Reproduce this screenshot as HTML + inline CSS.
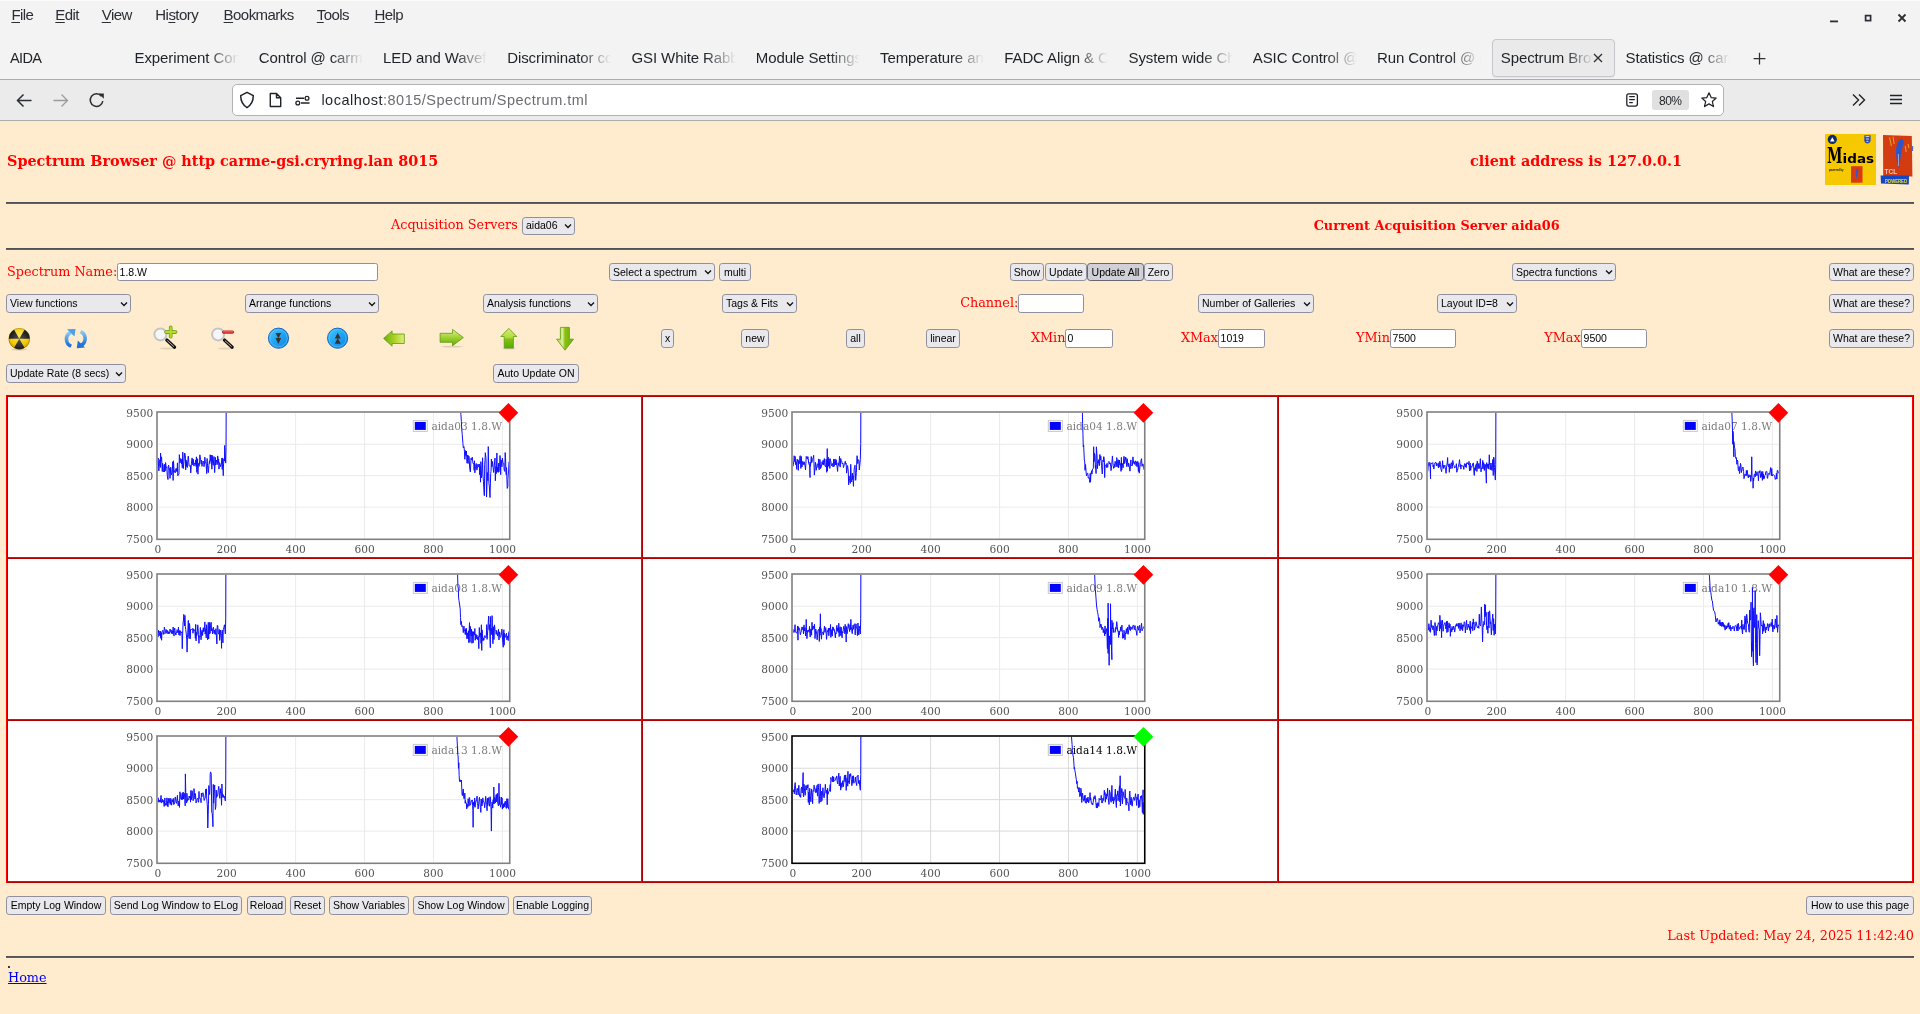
<!DOCTYPE html><html><head><meta charset="utf-8"><title>Spectrum Browser</title><style>
*{box-sizing:border-box}
html,body{margin:0;padding:0}
body{width:1920px;height:1014px;overflow:hidden;position:relative;background:#ffebcd;font-family:"Liberation Sans",sans-serif}
#root{position:absolute;left:0;top:0;width:1920px;height:1014px;will-change:transform}
.t{position:absolute;white-space:nowrap}
u{text-underline-offset:1.6px;text-decoration-thickness:1.2px}
#menubar{position:absolute;left:0;top:0;width:1920px;height:36px;background:#f3f3f3;border-top:1px solid #fbfbfb}
#tabbar{position:absolute;left:0;top:36px;width:1920px;height:44px;background:#f3f3f3;border-bottom:1px solid #ababab}
#navbar{position:absolute;left:0;top:80px;width:1920px;height:41px;background:#ebebeb;border-bottom:1px solid #adadad}
.tabt{position:absolute;top:49px;width:104px;height:18px;overflow:hidden;white-space:nowrap;font:15px/18px "Liberation Sans",sans-serif;color:#1f2226;letter-spacing:-0.1px;
 -webkit-mask-image:linear-gradient(to right,#000 70%,transparent 100%);mask-image:linear-gradient(to right,#000 70%,transparent 100%)}
.seltab{position:absolute;background:#eaeaea;border:1px solid #c6c6cc;border-radius:4px;box-shadow:0 1px 1px rgba(0,0,0,0.06)}
.urlbox{position:absolute;background:#fff;border:1px solid #b3b3b3;border-radius:5px}
.zoombadge{position:absolute;background:#e0e0e0;border-radius:3px;font:12px/23px "Liberation Sans",sans-serif;color:#1f2226;text-align:center;letter-spacing:-0.5px;overflow:hidden}
.hr{position:absolute;left:6px;width:1908px;height:2px;background:#4e5156;border-bottom:1px solid #5e6165}
.btn,.sel,.inp{position:absolute;border:1px solid #8f8f9d;border-radius:3.2px;background:#e9e9ed;font:10.5px/1 "Liberation Sans",sans-serif;color:#000;white-space:nowrap;overflow:hidden}
.btn span{position:absolute;left:0;right:0;text-align:center;line-height:10.5px}
.btn.pressed{background:#d0d0d7;border-color:#676774}
.sel span{position:absolute;left:3px;line-height:10.5px}
.sel .chev{position:absolute;right:2.5px;top:50%;margin-top:-3px}
.inp{background:#fff;border-radius:2.4px}
.inp span{position:absolute;left:1.6px;line-height:10.5px}
#grid{position:absolute;left:6px;top:395px;width:1908px;height:488px;background:#fff}
.vline{position:absolute;top:395px;width:2px;height:488px;background:#e00000}
.hline{position:absolute;left:6px;height:2px;width:1908px;background:#e00000}
.chart{position:absolute;overflow:visible}
</style></head><body><div id="root"><div id="menubar"></div><div id="tabbar"></div><div id="navbar"></div><div class="t" style="left:11.40px;top:7.00px;font-size:15px;line-height:15px;font-family:'Liberation Sans', sans-serif;font-weight:400;color:#2b2e33;letter-spacing:-0.55px"><u>F</u>ile</div><div class="t" style="left:55.30px;top:7.00px;font-size:15px;line-height:15px;font-family:'Liberation Sans', sans-serif;font-weight:400;color:#2b2e33;letter-spacing:-0.55px"><u>E</u>dit</div><div class="t" style="left:101.70px;top:7.00px;font-size:15px;line-height:15px;font-family:'Liberation Sans', sans-serif;font-weight:400;color:#2b2e33;letter-spacing:-0.55px"><u>V</u>iew</div><div class="t" style="left:155.30px;top:7.00px;font-size:15px;line-height:15px;font-family:'Liberation Sans', sans-serif;font-weight:400;color:#2b2e33;letter-spacing:-0.55px">Hi<u>s</u>tory</div><div class="t" style="left:223.60px;top:7.00px;font-size:15px;line-height:15px;font-family:'Liberation Sans', sans-serif;font-weight:400;color:#2b2e33;letter-spacing:-0.55px"><u>B</u>ookmarks</div><div class="t" style="left:316.80px;top:7.00px;font-size:15px;line-height:15px;font-family:'Liberation Sans', sans-serif;font-weight:400;color:#2b2e33;letter-spacing:-0.55px"><u>T</u>ools</div><div class="t" style="left:374.50px;top:7.00px;font-size:15px;line-height:15px;font-family:'Liberation Sans', sans-serif;font-weight:400;color:#2b2e33;letter-spacing:-0.55px"><u>H</u>elp</div><svg style="position:absolute;left:1826px;top:8px" width="90" height="20" viewBox="0 0 90 20"><rect x="4" y="12.5" width="8" height="1.8" fill="#2b2e33"/><rect x="39.6" y="7.6" width="5" height="5" fill="none" stroke="#2b2e33" stroke-width="1.7"/><path d="M72.5 6.5 L79.5 13.5 M79.5 6.5 L72.5 13.5" stroke="#2b2e33" stroke-width="1.8"/></svg><div class="t" style="left:10.00px;top:51.00px;font-size:14.5px;line-height:14.5px;font-family:'Liberation Sans', sans-serif;font-weight:400;color:#1f2226;letter-spacing:-0.6px">AIDA</div><div class="tabt" style="left:134.50px">Experiment Control @ carme</div><div class="tabt" style="left:258.75px">Control @ carme-gsi</div><div class="tabt" style="left:383.00px">LED and Waveform Control</div><div class="tabt" style="left:507.25px">Discriminator control</div><div class="tabt" style="left:631.50px">GSI White Rabbit</div><div class="tabt" style="left:755.75px">Module Settings @</div><div class="tabt" style="left:880.00px">Temperature and Status</div><div class="tabt" style="left:1004.25px">FADC Align & Control</div><div class="tabt" style="left:1128.50px">System wide Checks</div><div class="tabt" style="left:1252.75px">ASIC Control @ carme</div><div class="tabt" style="left:1377.00px">Run Control @ carme</div><div class="seltab" style="left:1492.00px;top:39.00px;width:123.00px;height:38.00px;"></div><div class="tabt" style="left:1500.75px;width:92px">Spectrum Browser</div><svg style="position:absolute;left:1593px;top:53px" width="10" height="10" viewBox="0 0 10 10"><path d="M1 1 L9 9 M9 1 L1 9" stroke="#2b2e33" stroke-width="1.3"/></svg><div class="tabt" style="left:1625.50px">Statistics @ carme</div><svg style="position:absolute;left:1752px;top:51px" width="16" height="16" viewBox="1752 51 16 16"><path d="M1759.5 52.8 V64.6 M1753.6 58.6 H1765.4" stroke="#2b2e33" stroke-width="1.25"/></svg><svg style="position:absolute;left:14px;top:90px" width="100" height="20" viewBox="0 0 100 20"><path d="M3.5 10.5 H17.5 M9.5 4.5 L3.5 10.5 L9.5 16.5" fill="none" stroke="#2b2e33" stroke-width="1.5"/><path d="M39.5 10.5 H53.5 M47.5 4.5 L53.5 10.5 L47.5 16.5" fill="none" stroke="#9a9b9e" stroke-width="1.3"/><path d="M87.5 6.2 A6.3 6.3 0 1 0 88.8 11" fill="none" stroke="#2b2e33" stroke-width="1.5"/><path d="M84.6 3.6 L89.8 3.6 L89.8 8.8 Z" fill="#2b2e33"/></svg><div class="urlbox" style="left:231.50px;top:84.00px;width:1492.70px;height:32.00px;"></div><svg style="position:absolute;left:238px;top:90px" width="80" height="20" viewBox="0 0 80 20"><path d="M9 2.3 L15.3 5.6 C15.3 11 13.5 15 9 17.7 C4.5 15 2.7 11 2.7 5.6 Z" fill="none" stroke="#1f2226" stroke-width="1.5" stroke-linejoin="round"/><path d="M32.3 3.5 H38.5 L42.7 7.7 V16.5 H32.3 Z M38.5 3.5 V7.7 H42.7" fill="none" stroke="#1f2226" stroke-width="1.4" stroke-linejoin="round"/><path d="M58 8.3 H66 M63 13 H71.5" stroke="#1f2226" stroke-width="1.4"/><circle cx="69" cy="8.3" r="1.9" fill="none" stroke="#1f2226" stroke-width="1.3"/><circle cx="59.8" cy="13" r="1.9" fill="none" stroke="#1f2226" stroke-width="1.3"/></svg><div class="t" style="left:321.40px;top:93.00px;font-size:14.5px;line-height:14.5px;font-family:'Liberation Sans', sans-serif;font-weight:400;color:#1f2226;letter-spacing:0.49px">localhost<span style="color:#6b6d70">:8015/Spectrum/Spectrum.tml</span></div><svg style="position:absolute;left:1623px;top:91px" width="18" height="18" viewBox="1623 91 18 18"><rect x="1626.8" y="93.8" width="10.6" height="12.3" rx="2" fill="none" stroke="#1f2226" stroke-width="1.3"/><path d="M1629.6 96.6 H1634.4 M1629.6 99.6 H1634.4 M1629.6 102.6 H1632.4" stroke="#1f2226" stroke-width="1.2" stroke-linecap="round"/></svg><div class="zoombadge" style="left:1651.90px;top:90.20px;width:36.80px;height:19.50px;"><span>80%</span></div><svg style="position:absolute;left:1699px;top:90px" width="20" height="20" viewBox="0 0 20 20"><path d="M10 2 L12.4 7.3 L18 7.8 L13.7 11.6 L15 17.3 L10 14.3 L5 17.3 L6.3 11.6 L2 7.8 L7.6 7.3 Z" transform="translate(10 10) scale(0.9) translate(-10 -10)" fill="none" stroke="#1f2226" stroke-width="1.35" stroke-linejoin="round"/></svg><svg style="position:absolute;left:1850px;top:91px" width="60" height="18" viewBox="0 0 60 18"><path d="M3 3.5 L8.5 9 L3 14.5 M9 3.5 L14.5 9 L9 14.5" fill="none" stroke="#1f2226" stroke-width="1.4"/><path d="M40 4.5 H52 M40 8.5 H52 M40 12.5 H52" stroke="#1f2226" stroke-width="1.3"/></svg><div class="t" style="left:7.00px;top:154.00px;font-size:14.4px;line-height:14.4px;font-family:'DejaVu Serif', serif;font-weight:700;color:#f00;">Spectrum Browser @ http carme-gsi.cryring.lan 8015</div><div class="t" style="left:1470.00px;top:154.00px;font-size:14.4px;line-height:14.4px;font-family:'DejaVu Serif', serif;font-weight:700;color:#f00;">client address is 127.0.0.1</div><svg style="position:absolute;left:1820px;top:130px" width="100" height="60" viewBox="1820 130 100 60">
<rect x="1825" y="134" width="51" height="51" fill="#f6c800"/>
<circle cx="1832.3" cy="139.4" r="4.6" fill="#0c2a6e"/>
<path d="M1830 141.6 L1832.3 137.2 L1834.6 141.6 Z" fill="#fff"/>
<path d="M1864.3 135.2 H1870.6 V140.6 C1870.6 142.6 1868.6 143.6 1867.4 143.6 C1866.2 143.6 1864.3 142.6 1864.3 140.6 Z" fill="#2a4cb0"/>
<path d="M1865.6 136.6 H1869.3 M1866 139 H1869 M1866.5 141.4 H1868.4" stroke="#e8e8ff" stroke-width="0.9"/>
<text x="1827" y="162.6" font-family="DejaVu Serif, serif" font-weight="700" font-size="22" textLength="15.5" lengthAdjust="spacingAndGlyphs" fill="#000">M</text>
<text x="1842.6" y="162.6" font-family="DejaVu Sans, sans-serif" font-weight="700" font-size="12.6" textLength="31.5" lengthAdjust="spacingAndGlyphs" fill="#000">idas</text>
<text x="1829" y="171.3" font-family="Liberation Sans, sans-serif" font-weight="700" font-size="3.6" textLength="14.5" lengthAdjust="spacingAndGlyphs" fill="#111">powered by</text>
<rect x="1851" y="166.2" width="11.5" height="16.5" fill="#d83a12"/>
<path d="M1857.5 168.5 C1859 168.6 1858.6 171 1857.8 173 C1857.3 175 1857.2 177 1856.6 179 C1856 176 1855.6 173 1856.2 171 C1856.5 169.5 1856.8 168.6 1857.5 168.5 Z" fill="#2f58c8"/>
<path d="M1883 135 L1911.8 136 L1912.4 176.6 L1883.2 176.2 Z" fill="#d23c10"/>
<path d="M1880.6 175.6 L1909 175.6 L1908.8 184.6 L1881 183.4 Z" fill="#1546c4"/>
<text x="1885" y="182.6" font-family="Liberation Sans, sans-serif" font-weight="700" font-size="6.2" textLength="22" lengthAdjust="spacingAndGlyphs" fill="#e8e030">POWERED</text>
<text x="1884.6" y="174.4" font-family="Liberation Sans, sans-serif" font-weight="700" font-size="6.4" textLength="12.5" lengthAdjust="spacingAndGlyphs" fill="#f0c8c0">TCL</text>
<path d="M1901.4 139 C1904.6 139.4 1904 143.6 1902.6 146.6 C1901.4 150.6 1900.8 157 1899 168 C1897.4 163 1895.4 156 1896.2 149 C1896.8 144 1898.4 139.6 1901.4 139 Z" fill="#2a56cc"/>
<path d="M1898.4 154 C1898.6 158 1898.4 162 1898.6 166" stroke="#e0e0f0" stroke-width="0.6" fill="none"/>
<path d="M1889.6 137.4 L1891.4 146 M1893 136.6 L1894.2 144 M1905.2 145.8 L1906.2 152 M1908 144 L1908.8 148" stroke="#f0b020" stroke-width="0.9"/>
<path d="M1912.2 146 L1913.2 146.2 L1913 151 L1912.2 151 Z" fill="#1a4cc8"/>
</svg><div class="hr" style="top:202px"></div><div class="hr" style="top:248px"></div><div class="hr" style="top:956px"></div><div class="t" style="left:391.00px;top:219.00px;font-size:12.8px;line-height:12.8px;font-family:'DejaVu Serif', serif;font-weight:400;color:#f00;">Acquisition Servers</div><div class="sel" style="left:522px;top:217px;width:53px;height:18px"><span style="top:2px">aida06</span><svg class="chev" width="8" height="6" viewBox="0 0 8 6"><path d="M1 1.5 L4 4.5 L7 1.5" fill="none" stroke="#111" stroke-width="1.3"/></svg></div><div class="t" style="left:1313.70px;top:220.00px;font-size:12.8px;line-height:12.8px;font-family:'DejaVu Serif', serif;font-weight:700;color:#f00;">Current Acquisition Server aida06</div><div class="t" style="left:7.00px;top:266.00px;font-size:12.8px;line-height:12.8px;font-family:'DejaVu Serif', serif;font-weight:400;color:#f00;">Spectrum Name:</div><div class="inp" style="left:117px;top:263px;width:261px;height:18px"><span style="top:3px">1.8.W</span></div><div class="sel" style="left:609px;top:263px;width:106px;height:18px"><span style="top:3px">Select a spectrum</span><svg class="chev" width="8" height="6" viewBox="0 0 8 6"><path d="M1 1.5 L4 4.5 L7 1.5" fill="none" stroke="#111" stroke-width="1.3"/></svg></div><div class="btn" style="left:719px;top:263px;width:32px;height:18px"><span style="top:3px">multi</span></div><div class="btn" style="left:1010px;top:263px;width:34px;height:18px"><span style="top:3px">Show</span></div><div class="btn" style="left:1045px;top:263px;width:42px;height:18px"><span style="top:3px">Update</span></div><div class="btn pressed" style="left:1087px;top:263px;width:57px;height:18px"><span style="top:3px">Update All</span></div><div class="btn" style="left:1144px;top:263px;width:29px;height:18px"><span style="top:3px">Zero</span></div><div class="sel" style="left:1512px;top:263px;width:104px;height:18px"><span style="top:3px">Spectra functions</span><svg class="chev" width="8" height="6" viewBox="0 0 8 6"><path d="M1 1.5 L4 4.5 L7 1.5" fill="none" stroke="#111" stroke-width="1.3"/></svg></div><div class="btn" style="left:1829px;top:263px;width:85px;height:18px"><span style="top:3px">What are these?</span></div><div class="sel" style="left:6px;top:294px;width:125px;height:19px"><span style="top:3px">View functions</span><svg class="chev" width="8" height="6" viewBox="0 0 8 6"><path d="M1 1.5 L4 4.5 L7 1.5" fill="none" stroke="#111" stroke-width="1.3"/></svg></div><div class="sel" style="left:245px;top:294px;width:134px;height:19px"><span style="top:3px">Arrange functions</span><svg class="chev" width="8" height="6" viewBox="0 0 8 6"><path d="M1 1.5 L4 4.5 L7 1.5" fill="none" stroke="#111" stroke-width="1.3"/></svg></div><div class="sel" style="left:483px;top:294px;width:115px;height:19px"><span style="top:3px">Analysis functions</span><svg class="chev" width="8" height="6" viewBox="0 0 8 6"><path d="M1 1.5 L4 4.5 L7 1.5" fill="none" stroke="#111" stroke-width="1.3"/></svg></div><div class="sel" style="left:722px;top:294px;width:75px;height:19px"><span style="top:3px">Tags &amp; Fits</span><svg class="chev" width="8" height="6" viewBox="0 0 8 6"><path d="M1 1.5 L4 4.5 L7 1.5" fill="none" stroke="#111" stroke-width="1.3"/></svg></div><div class="t" style="left:960.20px;top:297.00px;font-size:12.8px;line-height:12.8px;font-family:'DejaVu Serif', serif;font-weight:400;color:#f00;">Channel:</div><div class="inp" style="left:1018px;top:294px;width:66px;height:19px"><span style="top:3px"></span></div><div class="sel" style="left:1198px;top:294px;width:116px;height:19px"><span style="top:3px">Number of Galleries</span><svg class="chev" width="8" height="6" viewBox="0 0 8 6"><path d="M1 1.5 L4 4.5 L7 1.5" fill="none" stroke="#111" stroke-width="1.3"/></svg></div><div class="sel" style="left:1437px;top:294px;width:80px;height:19px"><span style="top:3px">Layout ID=8</span><svg class="chev" width="8" height="6" viewBox="0 0 8 6"><path d="M1 1.5 L4 4.5 L7 1.5" fill="none" stroke="#111" stroke-width="1.3"/></svg></div><div class="btn" style="left:1829px;top:294px;width:85px;height:19px"><span style="top:3px">What are these?</span></div><div class="btn" style="left:661px;top:329px;width:13px;height:19px"><span style="top:3px">x</span></div><div class="btn" style="left:741px;top:329px;width:28px;height:19px"><span style="top:3px">new</span></div><div class="btn" style="left:846px;top:329px;width:19px;height:19px"><span style="top:3px">all</span></div><div class="btn" style="left:926px;top:329px;width:34px;height:19px"><span style="top:3px">linear</span></div><div class="t" style="left:1030.90px;top:332.00px;font-size:12.8px;line-height:12.8px;font-family:'DejaVu Serif', serif;font-weight:400;color:#f00;">XMin</div><div class="inp" style="left:1065px;top:329px;width:48px;height:19px"><span style="top:3px">0</span></div><div class="t" style="left:1180.90px;top:332.00px;font-size:12.8px;line-height:12.8px;font-family:'DejaVu Serif', serif;font-weight:400;color:#f00;">XMax</div><div class="inp" style="left:1218px;top:329px;width:47px;height:19px"><span style="top:3px">1019</span></div><div class="t" style="left:1356.00px;top:332.00px;font-size:12.8px;line-height:12.8px;font-family:'DejaVu Serif', serif;font-weight:400;color:#f00;">YMin</div><div class="inp" style="left:1390px;top:329px;width:66px;height:19px"><span style="top:3px">7500</span></div><div class="t" style="left:1544.30px;top:332.00px;font-size:12.8px;line-height:12.8px;font-family:'DejaVu Serif', serif;font-weight:400;color:#f00;">YMax</div><div class="inp" style="left:1581px;top:329px;width:66px;height:19px"><span style="top:3px">9500</span></div><div class="btn" style="left:1829px;top:329px;width:85px;height:19px"><span style="top:3px">What are these?</span></div><div class="sel" style="left:6px;top:364px;width:120px;height:19px"><span style="top:3px">Update Rate (8 secs)</span><svg class="chev" width="8" height="6" viewBox="0 0 8 6"><path d="M1 1.5 L4 4.5 L7 1.5" fill="none" stroke="#111" stroke-width="1.3"/></svg></div><div class="btn" style="left:493px;top:364px;width:86px;height:19px"><span style="top:3px">Auto Update ON</span></div>
<svg style="position:absolute;left:0;top:320px" width="600" height="36" viewBox="0 320 600 36">
 <defs>
  <radialGradient id="gy" cx="0.5" cy="0.35" r="0.65"><stop offset="0" stop-color="#ffe860"/><stop offset="0.7" stop-color="#f2c800"/><stop offset="1" stop-color="#c89a00"/></radialGradient>
  <radialGradient id="gk" cx="0.5" cy="0.5" r="0.6"><stop offset="0" stop-color="#555"/><stop offset="1" stop-color="#111"/></radialGradient>
  <linearGradient id="gb" x1="0" y1="0" x2="1" y2="1"><stop offset="0" stop-color="#48c8ff"/><stop offset="0.5" stop-color="#1ea4f2"/><stop offset="1" stop-color="#1080e0"/></linearGradient>
  <linearGradient id="gr" x1="0" y1="0" x2="0" y2="1"><stop offset="0" stop-color="#8cc8f4"/><stop offset="1" stop-color="#1a70d8"/></linearGradient>
  <linearGradient id="gup" x1="0" y1="0" x2="0" y2="1"><stop offset="0" stop-color="#d4ec70"/><stop offset="0.45" stop-color="#b4dc40"/><stop offset="0.55" stop-color="#84c010"/><stop offset="1" stop-color="#5aa808"/></linearGradient>
  <linearGradient id="gdn" x1="0" y1="0" x2="1" y2="0"><stop offset="0" stop-color="#b0d840"/><stop offset="0.35" stop-color="#d8ec90"/><stop offset="0.5" stop-color="#88c010"/><stop offset="1" stop-color="#6ab010"/></linearGradient>
  <linearGradient id="glt" x1="0" y1="0" x2="1" y2="0"><stop offset="0" stop-color="#68b010"/><stop offset="0.5" stop-color="#a8d020"/><stop offset="1" stop-color="#e0f080"/></linearGradient>
  <linearGradient id="grt" x1="0" y1="0" x2="0" y2="1"><stop offset="0" stop-color="#e0f0a0"/><stop offset="0.5" stop-color="#a0d030"/><stop offset="1" stop-color="#64ac08"/></linearGradient>
 </defs>
 <!-- radiation -->
 <ellipse cx="19.3" cy="349.5" rx="8" ry="1.2" fill="#000" opacity="0.12"/>
 <circle cx="19.3" cy="338.8" r="10.7" fill="url(#gy)"/>
 <path d="M19.3 338.8 L24.50 329.79 A10.4 10.4 0 0 1 29.70 338.80 Z M19.3 338.8 L8.90 338.80 A10.4 10.4 0 0 1 14.10 329.79 Z M19.3 338.8 L24.50 347.81 A10.4 10.4 0 0 1 14.10 347.81 Z" fill="url(#gk)"/>
 <circle cx="19.3" cy="338.8" r="10.4" fill="none" stroke="#3a3000" stroke-width="0.5" opacity="0.6"/>
 <!-- refresh -->
 <path d="M71.2 346.2 A7.6 7.6 0 0 1 70.6 332.4" fill="none" stroke="url(#gr)" stroke-width="3.6"/>
 <path d="M67 329.2 L75.5 329 L74.5 336.6 Z" fill="#4aa0ec"/>
 <path d="M80.6 331.6 A7.6 7.6 0 0 1 81.6 345" fill="none" stroke="url(#gr)" stroke-width="3.6"/>
 <path d="M85 347.6 L76.8 348.2 L77.8 340.6 Z" fill="#1c74d8"/>
 <!-- zoom + -->
 <ellipse cx="167" cy="348.5" rx="7" ry="1" fill="#000" opacity="0.1"/>
 <path d="M166.8 340 L174.6 347.2" stroke="#111" stroke-width="3.2" stroke-linecap="round"/>
 <path d="M167.3 340.6 L174 346.6" stroke="#ddd" stroke-width="0.8"/>
 <circle cx="160.4" cy="334.4" r="6" fill="#f6f6f6" stroke="#c4c4c4" stroke-width="2"/>
 <path d="M170.7 327.4 V336.8 M166 332.1 H175.6" stroke="#5c9a10" stroke-width="3.6" stroke-linecap="round"/>
 <path d="M170.7 327.4 V336.8 M166 332.1 H175.6" stroke="#b8dc20" stroke-width="2.2" stroke-linecap="round"/>
 <!-- zoom - -->
 <ellipse cx="225" cy="348.5" rx="7" ry="1" fill="#000" opacity="0.1"/>
 <path d="M224.4 340 L232.2 347.2" stroke="#111" stroke-width="3.2" stroke-linecap="round"/>
 <path d="M224.9 340.6 L231.6 346.6" stroke="#ddd" stroke-width="0.8"/>
 <circle cx="218.1" cy="334.4" r="6" fill="#f6f6f6" stroke="#c4c4c4" stroke-width="2"/>
 <path d="M223.6 332.1 H232.4" stroke="#c82020" stroke-width="3.4" stroke-linecap="round"/>
 <path d="M223.6 331.8 H232.4" stroke="#f05050" stroke-width="1.6" stroke-linecap="round"/>
 <!-- blue down -->
 <circle cx="278.5" cy="338.2" r="10.1" fill="url(#gb)" stroke="#0a5cc0" stroke-width="0.9"/>
 <circle cx="278.5" cy="338.2" r="8.6" fill="none" stroke="#7cd0ff" stroke-width="0.6" opacity="0.8"/>
 <path d="M275.5 333 L281.2 333 L278.4 338.4 Z M275.5 338 L281.2 338 L278.4 344 Z" fill="#3a3230"/>
 <!-- blue up -->
 <circle cx="337.6" cy="338.2" r="10.1" fill="url(#gb)" stroke="#0a5cc0" stroke-width="0.9"/>
 <circle cx="337.6" cy="338.2" r="8.6" fill="none" stroke="#7cd0ff" stroke-width="0.6" opacity="0.8"/>
 <path d="M334.8 338.5 L340.8 338.5 L337.7 332.8 Z M334.8 343.8 L340.8 343.8 L337.7 338 Z" fill="#3a3230"/>
 <!-- left arrow -->
 <path d="M383.6 338.4 L392.1 330.9 L392.1 334 L404.3 334 L404.3 343.5 L392.1 343.5 L392.1 346.2 Z" fill="url(#glt)" stroke="#5a9a10" stroke-width="0.8" stroke-linejoin="round"/>
 <!-- right arrow -->
 <ellipse cx="452" cy="346.6" rx="11" ry="0.9" fill="#000" opacity="0.12"/>
 <path d="M463.4 337.6 L452.5 329.4 L452.5 333.3 L440.1 333.3 L440.1 342.3 L452.5 342.3 L452.5 345.8 Z" fill="url(#grt)" stroke="#5a9a10" stroke-width="0.8" stroke-linejoin="round"/>
 <!-- up arrow -->
 <ellipse cx="509" cy="348.6" rx="7" ry="0.9" fill="#000" opacity="0.12"/>
 <path d="M508.8 328.4 L516.8 336.5 L513.4 336.5 L513.4 348.1 L504.2 348.1 L504.2 336.5 L500.8 336.5 Z" fill="url(#gup)" stroke="#5a9a10" stroke-width="0.8" stroke-linejoin="round"/>
 <!-- down arrow -->
 <path d="M565 350.2 L573.5 339.2 L569.4 339.2 L569.4 327.4 L560.4 327.4 L560.4 339.2 L556.6 339.2 Z" fill="url(#gdn)" stroke="#5a9a10" stroke-width="0.8" stroke-linejoin="round"/>
</svg><div id="grid"></div><div style="position:absolute;left:6px;top:395px;width:1908px;height:1px;background:#ff0000"></div><div style="position:absolute;left:6px;top:396px;width:1908px;height:1px;background:#b40000"></div><div style="position:absolute;left:6px;top:557px;width:1908px;height:1px;background:#ff0000"></div><div style="position:absolute;left:6px;top:558px;width:1908px;height:1px;background:#b40000"></div><div style="position:absolute;left:6px;top:719px;width:1908px;height:1px;background:#ff0000"></div><div style="position:absolute;left:6px;top:720px;width:1908px;height:1px;background:#b40000"></div><div style="position:absolute;left:6px;top:881px;width:1908px;height:1px;background:#ff0000"></div><div style="position:absolute;left:6px;top:882px;width:1908px;height:1px;background:#b40000"></div><div style="position:absolute;left:6px;top:395px;width:1px;height:488px;background:#ff0000"></div><div style="position:absolute;left:7px;top:395px;width:1px;height:488px;background:#b40000"></div><div style="position:absolute;left:641px;top:395px;width:1px;height:488px;background:#ff0000"></div><div style="position:absolute;left:642px;top:395px;width:1px;height:488px;background:#b40000"></div><div style="position:absolute;left:1277px;top:395px;width:1px;height:488px;background:#ff0000"></div><div style="position:absolute;left:1278px;top:395px;width:1px;height:488px;background:#b40000"></div><div style="position:absolute;left:1912px;top:395px;width:1px;height:488px;background:#ff0000"></div><div style="position:absolute;left:1913px;top:395px;width:1px;height:488px;background:#b40000"></div><svg class="chart" style="left:117.20px;top:398.10px" width="420" height="160" viewBox="0 0 420 160"><g transform="translate(40,14)"><line x1="0.8" x2="351.95" y1="32.23" y2="32.23" stroke="#ebebeb" stroke-width="1"/><line x1="0.8" x2="351.95" y1="63.65" y2="63.65" stroke="#ebebeb" stroke-width="1"/><line x1="0.8" x2="351.95" y1="95.08" y2="95.08" stroke="#ebebeb" stroke-width="1"/><line x1="69.72" x2="69.72" y1="0.8" y2="126.5" stroke="#ebebeb" stroke-width="1"/><line x1="138.64" x2="138.64" y1="0.8" y2="126.5" stroke="#ebebeb" stroke-width="1"/><line x1="207.56" x2="207.56" y1="0.8" y2="126.5" stroke="#ebebeb" stroke-width="1"/><line x1="276.48" x2="276.48" y1="0.8" y2="126.5" stroke="#ebebeb" stroke-width="1"/><line x1="345.40" x2="345.40" y1="0.8" y2="126.5" stroke="#ebebeb" stroke-width="1"/><clipPath id="cp0"><rect x="0.8" y="0.8" width="351.15" height="125.70"/></clipPath><rect x="256.3" y="8.4" width="14" height="11" fill="#fff" stroke="#c8c8c8" stroke-width="1"/><rect x="257.8" y="9.9" width="11" height="8" fill="#00f"/><text x="274.40000000000003" y="17.8" font-family="DejaVu Serif, serif" font-size="10.6" fill="#7d7d7d">aida03 1.8.W</text><polyline clip-path="url(#cp0)" points="0.80,51.86 1.14,46.01 1.83,58.92 2.52,51.25 2.87,47.55 3.56,55.42 3.56,41.02 3.90,49.46 4.59,44.83 5.28,59.48 5.62,51.27 5.97,59.08 6.66,59.97 7.18,52.75 7.52,59.87 7.86,51.99 8.21,59.09 8.55,50.55 9.24,55.93 9.76,54.89 10.28,63.45 10.97,67.54 11.31,54.53 11.65,53.05 12.00,56.86 12.52,56.45 13.03,66.38 13.72,55.16 14.41,62.90 15.10,60.63 15.45,56.26 15.79,49.74 16.13,68.44 16.48,48.82 17.17,60.07 17.51,58.67 18.20,60.90 18.55,58.34 19.06,56.46 19.41,58.89 19.75,56.66 20.10,60.01 20.44,50.85 20.79,63.80 21.30,62.49 21.99,62.35 22.34,42.62 23.03,50.97 23.37,49.81 23.72,46.55 24.06,47.42 24.58,52.03 24.92,47.53 25.27,55.71 25.78,40.16 26.30,56.60 26.99,49.68 27.68,40.99 28.37,43.50 28.71,57.89 29.06,47.94 29.40,54.43 29.75,49.69 30.44,55.47 31.13,44.06 31.47,44.63 31.81,50.26 32.16,53.90 32.50,54.22 32.85,54.02 33.36,53.48 33.71,60.98 34.05,57.31 34.40,51.12 35.09,45.89 35.78,52.98 36.12,47.04 36.47,49.03 36.98,54.14 37.33,50.93 38.02,52.17 38.36,52.31 38.71,47.98 39.05,54.40 39.40,44.83 39.74,60.33 40.08,57.86 40.60,46.70 40.95,62.20 41.29,51.24 41.98,54.37 42.50,52.15 42.84,42.89 43.53,47.14 44.22,52.16 44.56,48.27 44.91,54.32 45.60,52.48 45.94,49.03 46.63,50.06 46.98,54.68 47.49,52.61 47.84,45.19 48.36,50.83 49.04,50.70 49.73,61.62 50.08,46.47 50.42,51.33 51.11,60.02 51.46,60.57 51.80,53.76 52.49,48.74 52.83,51.51 53.18,42.82 53.87,49.23 54.21,43.06 54.90,57.18 55.25,43.34 55.59,50.44 56.28,53.22 56.97,44.49 57.66,60.60 58.35,45.35 58.69,53.03 59.38,48.07 59.90,50.45 60.24,52.63 60.59,44.01 60.93,44.26 61.28,50.83 61.62,47.33 61.97,57.17 62.48,50.60 62.83,50.94 63.52,54.63 64.21,52.59 64.55,51.27 64.90,46.02 65.24,57.43 65.59,45.95 65.93,49.42 66.27,63.65 66.27,56.51 66.62,51.61 66.96,46.91 67.48,49.06 67.65,33.48 68.69,51.08 69.03,35.37 69.38,-62.05 70.41,-62.05 301.98,-62.05 302.67,-43.20 303.02,-11.77 303.36,-5.46 303.88,2.52 304.39,9.48 304.74,17.22 305.26,22.62 305.95,31.69 306.29,35.81 306.98,34.62 307.50,39.75 307.84,47.26 308.36,38.53 308.70,43.47 309.39,38.99 309.74,45.37 310.08,51.20 310.43,43.18 311.11,51.50 311.46,43.62 312.15,44.72 312.67,55.89 313.35,59.97 314.04,46.24 314.39,47.91 314.91,46.63 315.25,45.15 315.94,50.99 316.46,51.92 316.80,51.22 317.15,58.31 317.49,48.79 317.83,60.85 318.52,54.54 319.21,51.49 319.90,58.13 320.59,54.77 320.94,52.14 321.28,54.86 321.97,53.09 322.31,51.99 322.66,62.71 323.18,54.02 323.52,70.19 323.86,49.67 324.55,65.69 325.24,57.49 325.59,45.75 325.93,62.98 326.45,69.29 327.14,83.10 327.48,83.76 327.66,52.34 328.00,48.32 328.34,40.71 329.03,46.89 329.55,84.95 329.90,75.26 330.24,60.39 330.93,68.64 331.27,34.60 331.96,71.75 332.31,73.98 333.00,85.53 333.69,61.51 334.03,59.28 334.38,47.12 334.89,54.79 335.24,52.58 335.58,49.47 336.10,55.44 336.62,60.48 337.30,53.23 337.99,46.03 338.34,68.72 338.86,54.62 339.20,61.73 339.54,54.94 339.89,41.04 340.23,60.11 340.58,55.41 341.27,60.38 341.61,51.18 341.96,59.70 342.30,54.69 342.65,52.94 342.99,43.52 343.33,47.83 343.68,62.62 344.02,47.90 344.37,49.09 344.89,54.80 345.40,46.02 345.92,50.73 346.44,51.19 346.78,51.17 347.13,58.08 347.81,59.46 348.16,40.58 348.50,45.28 348.85,55.80 349.19,62.76 349.54,55.57 350.23,76.38 350.92,74.33 350.92,67.74 351.61,58.00 351.95,49.93" fill="none" stroke="#1010ff" stroke-width="1" stroke-linejoin="round"/><rect x="0" y="0" width="352.75" height="127.3" fill="none" stroke="#808080" stroke-width="1.6"/><text x="-3.7" y="4.70" text-anchor="end" font-family="DejaVu Serif, serif" font-size="10.6" fill="#545454">9500</text><text x="-3.7" y="36.12" text-anchor="end" font-family="DejaVu Serif, serif" font-size="10.6" fill="#545454">9000</text><text x="-3.7" y="67.95" text-anchor="end" font-family="DejaVu Serif, serif" font-size="10.6" fill="#545454">8500</text><text x="-3.7" y="98.98" text-anchor="end" font-family="DejaVu Serif, serif" font-size="10.6" fill="#545454">8000</text><text x="-3.7" y="131.40" text-anchor="end" font-family="DejaVu Serif, serif" font-size="10.6" fill="#545454">7500</text><text x="0.80" y="140.90" text-anchor="middle" font-family="DejaVu Serif, serif" font-size="10.6" fill="#545454">0</text><text x="69.72" y="140.90" text-anchor="middle" font-family="DejaVu Serif, serif" font-size="10.6" fill="#545454">200</text><text x="138.64" y="140.90" text-anchor="middle" font-family="DejaVu Serif, serif" font-size="10.6" fill="#545454">400</text><text x="207.56" y="140.90" text-anchor="middle" font-family="DejaVu Serif, serif" font-size="10.6" fill="#545454">600</text><text x="276.48" y="140.90" text-anchor="middle" font-family="DejaVu Serif, serif" font-size="10.6" fill="#545454">800</text><text x="345.40" y="140.90" text-anchor="middle" font-family="DejaVu Serif, serif" font-size="10.6" fill="#545454">1000</text><path d="M351.45 -9.10 L361.25 0.80 L351.45 10.70 L341.65 0.80 Z" fill="#ff0000"/></g></svg><svg class="chart" style="left:752.20px;top:398.10px" width="420" height="160" viewBox="0 0 420 160"><g transform="translate(40,14)"><line x1="0.8" x2="351.95" y1="32.23" y2="32.23" stroke="#ebebeb" stroke-width="1"/><line x1="0.8" x2="351.95" y1="63.65" y2="63.65" stroke="#ebebeb" stroke-width="1"/><line x1="0.8" x2="351.95" y1="95.08" y2="95.08" stroke="#ebebeb" stroke-width="1"/><line x1="69.72" x2="69.72" y1="0.8" y2="126.5" stroke="#ebebeb" stroke-width="1"/><line x1="138.64" x2="138.64" y1="0.8" y2="126.5" stroke="#ebebeb" stroke-width="1"/><line x1="207.56" x2="207.56" y1="0.8" y2="126.5" stroke="#ebebeb" stroke-width="1"/><line x1="276.48" x2="276.48" y1="0.8" y2="126.5" stroke="#ebebeb" stroke-width="1"/><line x1="345.40" x2="345.40" y1="0.8" y2="126.5" stroke="#ebebeb" stroke-width="1"/><clipPath id="cp1"><rect x="0.8" y="0.8" width="351.15" height="125.70"/></clipPath><rect x="256.3" y="8.4" width="14" height="11" fill="#fff" stroke="#c8c8c8" stroke-width="1"/><rect x="257.8" y="9.9" width="11" height="8" fill="#00f"/><text x="274.40000000000003" y="17.8" font-family="DejaVu Serif, serif" font-size="10.6" fill="#7d7d7d">aida04 1.8.W</text><polyline clip-path="url(#cp1)" points="0.80,54.56 1.49,52.59 1.83,48.78 2.18,43.76 2.52,46.26 2.87,49.78 3.21,44.48 3.56,52.70 3.90,52.67 4.25,49.72 4.76,57.32 5.11,47.23 5.62,49.23 5.97,47.76 6.31,58.36 6.66,48.66 7.18,51.67 7.52,51.55 7.86,44.47 8.21,43.71 8.90,56.43 9.24,44.43 9.93,55.03 10.62,49.40 10.97,49.47 11.31,52.69 11.83,50.69 12.17,49.76 12.86,53.45 13.21,54.88 13.55,57.94 14.24,44.40 14.58,45.55 14.93,46.29 15.45,47.15 15.79,44.52 16.31,46.52 16.65,51.56 17.00,52.61 17.34,52.44 17.69,53.06 18.03,65.54 18.03,50.11 18.37,54.41 18.89,50.31 19.24,44.49 19.58,50.57 19.93,50.62 20.44,47.67 21.13,45.89 21.65,43.26 21.99,51.83 22.34,63.12 23.03,55.42 23.37,50.25 23.89,54.66 24.23,58.32 24.75,54.33 25.27,51.71 25.78,52.28 26.13,55.62 26.65,46.92 27.16,57.85 27.85,47.38 28.20,49.30 28.54,56.62 29.06,55.50 29.40,54.88 30.09,49.67 30.61,52.47 31.13,48.20 31.64,53.04 32.33,46.52 32.68,50.99 33.02,54.27 33.36,54.08 33.88,54.90 34.23,47.16 34.74,60.29 35.09,52.42 35.26,36.62 35.43,58.93 36.12,44.97 36.47,54.29 36.81,48.40 37.16,46.90 37.84,56.44 38.19,46.68 38.53,48.47 38.88,49.51 39.22,52.13 39.74,53.89 40.43,51.51 41.12,55.03 41.46,51.14 41.81,47.00 42.15,54.38 42.67,48.89 43.01,46.99 43.36,48.99 43.70,52.94 44.22,47.70 44.56,53.00 44.91,53.11 45.60,59.45 46.12,50.73 46.63,53.12 46.98,53.60 47.49,44.30 48.18,55.10 48.70,46.49 49.04,48.27 49.56,48.72 50.25,52.05 50.77,51.03 51.11,52.20 51.46,55.60 51.80,53.91 52.32,53.26 52.66,52.83 53.01,49.89 53.35,49.21 53.70,52.17 54.21,51.43 54.56,61.11 55.25,55.60 55.59,53.59 56.28,59.10 56.63,72.82 56.97,63.90 57.31,66.56 57.66,68.75 58.35,71.40 58.69,52.30 59.38,68.82 59.73,70.00 60.42,61.09 60.76,67.55 61.11,63.61 61.45,74.33 61.45,69.46 61.79,68.46 62.14,57.83 62.48,55.32 63.00,53.22 63.69,68.35 64.38,60.52 64.72,50.07 65.07,43.69 65.76,51.59 66.10,47.65 66.62,48.11 66.96,48.29 67.31,57.95 68.34,47.31 68.69,31.60 69.03,-62.05 70.07,-62.05 288.89,-62.05 289.58,-43.20 289.92,-24.34 290.61,11.44 290.96,22.55 291.30,34.98 291.64,32.96 292.33,47.82 292.68,49.03 293.02,58.26 293.54,52.52 294.23,61.47 294.57,63.90 295.09,61.51 295.61,60.94 295.95,62.80 296.30,66.19 296.99,65.57 297.50,67.17 297.85,70.52 298.19,61.31 298.54,69.92 298.88,62.99 299.57,58.74 299.92,62.07 300.60,57.01 301.29,56.56 301.64,45.58 301.64,34.74 302.15,49.49 302.50,41.37 303.02,43.93 303.36,56.28 303.71,53.21 304.05,61.53 304.39,34.81 305.08,44.05 305.43,56.59 305.95,49.32 306.46,51.07 306.81,47.54 307.15,53.74 307.50,53.53 307.84,42.49 308.19,48.18 308.53,44.08 308.87,43.89 309.56,53.79 310.25,61.96 310.60,58.13 310.94,48.11 311.29,49.76 311.63,44.77 311.98,44.79 312.49,50.16 312.67,65.54 313.01,54.63 313.35,53.46 313.87,52.72 314.56,55.50 314.91,51.51 315.42,55.25 315.77,55.34 316.11,50.56 316.46,50.22 316.97,49.43 317.66,52.09 318.01,51.26 318.35,51.02 318.70,54.15 319.04,58.63 319.73,52.85 320.42,43.95 320.94,50.90 321.28,53.77 321.62,56.38 322.31,55.63 322.66,51.64 323.18,49.33 323.52,50.13 323.86,55.05 324.38,54.50 324.73,45.62 325.07,47.46 325.59,51.48 325.93,55.18 326.28,47.78 326.62,55.92 327.14,52.11 327.48,48.14 327.83,52.82 328.52,51.49 329.03,59.38 329.38,45.42 329.72,57.98 330.07,51.21 330.41,51.93 331.10,55.84 331.45,52.82 331.79,44.58 332.14,44.32 332.65,51.60 333.34,48.29 333.69,45.04 334.20,46.83 334.72,54.60 335.24,46.76 335.93,53.09 336.27,54.58 336.62,51.00 337.30,54.49 337.99,59.12 338.51,51.89 338.86,47.88 339.20,52.69 339.89,53.94 340.41,53.38 340.92,44.86 341.27,47.68 341.78,51.38 342.30,50.34 342.65,52.30 342.99,49.29 343.33,48.84 343.68,50.97 344.02,53.71 344.71,49.66 345.06,54.79 345.40,50.70 345.75,49.42 346.09,54.71 346.44,59.53 346.78,50.59 347.30,61.15 347.99,54.09 348.68,52.60 349.02,48.19 349.54,46.66 350.05,54.41 350.40,52.95 350.92,51.85 351.61,53.67 351.95,57.75" fill="none" stroke="#1010ff" stroke-width="1" stroke-linejoin="round"/><rect x="0" y="0" width="352.75" height="127.3" fill="none" stroke="#808080" stroke-width="1.6"/><text x="-3.7" y="4.70" text-anchor="end" font-family="DejaVu Serif, serif" font-size="10.6" fill="#545454">9500</text><text x="-3.7" y="36.12" text-anchor="end" font-family="DejaVu Serif, serif" font-size="10.6" fill="#545454">9000</text><text x="-3.7" y="67.95" text-anchor="end" font-family="DejaVu Serif, serif" font-size="10.6" fill="#545454">8500</text><text x="-3.7" y="98.98" text-anchor="end" font-family="DejaVu Serif, serif" font-size="10.6" fill="#545454">8000</text><text x="-3.7" y="131.40" text-anchor="end" font-family="DejaVu Serif, serif" font-size="10.6" fill="#545454">7500</text><text x="0.80" y="140.90" text-anchor="middle" font-family="DejaVu Serif, serif" font-size="10.6" fill="#545454">0</text><text x="69.72" y="140.90" text-anchor="middle" font-family="DejaVu Serif, serif" font-size="10.6" fill="#545454">200</text><text x="138.64" y="140.90" text-anchor="middle" font-family="DejaVu Serif, serif" font-size="10.6" fill="#545454">400</text><text x="207.56" y="140.90" text-anchor="middle" font-family="DejaVu Serif, serif" font-size="10.6" fill="#545454">600</text><text x="276.48" y="140.90" text-anchor="middle" font-family="DejaVu Serif, serif" font-size="10.6" fill="#545454">800</text><text x="345.40" y="140.90" text-anchor="middle" font-family="DejaVu Serif, serif" font-size="10.6" fill="#545454">1000</text><path d="M351.45 -9.10 L361.25 0.80 L351.45 10.70 L341.65 0.80 Z" fill="#ff0000"/></g></svg><svg class="chart" style="left:1387.20px;top:398.10px" width="420" height="160" viewBox="0 0 420 160"><g transform="translate(40,14)"><line x1="0.8" x2="351.95" y1="32.23" y2="32.23" stroke="#ebebeb" stroke-width="1"/><line x1="0.8" x2="351.95" y1="63.65" y2="63.65" stroke="#ebebeb" stroke-width="1"/><line x1="0.8" x2="351.95" y1="95.08" y2="95.08" stroke="#ebebeb" stroke-width="1"/><line x1="69.72" x2="69.72" y1="0.8" y2="126.5" stroke="#ebebeb" stroke-width="1"/><line x1="138.64" x2="138.64" y1="0.8" y2="126.5" stroke="#ebebeb" stroke-width="1"/><line x1="207.56" x2="207.56" y1="0.8" y2="126.5" stroke="#ebebeb" stroke-width="1"/><line x1="276.48" x2="276.48" y1="0.8" y2="126.5" stroke="#ebebeb" stroke-width="1"/><line x1="345.40" x2="345.40" y1="0.8" y2="126.5" stroke="#ebebeb" stroke-width="1"/><clipPath id="cp2"><rect x="0.8" y="0.8" width="351.15" height="125.70"/></clipPath><rect x="256.3" y="8.4" width="14" height="11" fill="#fff" stroke="#c8c8c8" stroke-width="1"/><rect x="257.8" y="9.9" width="11" height="8" fill="#00f"/><text x="274.40000000000003" y="17.8" font-family="DejaVu Serif, serif" font-size="10.6" fill="#7d7d7d">aida07 1.8.W</text><polyline clip-path="url(#cp2)" points="0.80,59.41 1.14,54.94 1.49,52.16 2.18,50.20 2.52,53.70 3.04,53.79 3.56,66.79 3.56,54.27 3.90,50.81 4.42,51.85 4.76,51.44 5.11,51.59 5.80,50.55 6.14,54.95 6.49,52.93 6.83,57.12 7.35,52.37 8.04,50.89 8.73,50.11 9.07,51.45 9.42,53.91 9.76,51.09 10.45,53.20 10.79,52.78 11.48,55.80 11.83,50.81 12.17,55.16 12.52,54.77 12.86,49.17 13.55,52.53 13.89,57.36 14.24,57.72 14.58,59.63 14.93,57.34 15.62,48.72 15.96,54.70 16.31,53.42 16.65,56.48 17.00,53.75 17.34,54.64 17.86,53.16 18.20,56.78 18.55,56.66 19.06,61.30 19.75,53.55 20.27,50.36 20.61,45.56 20.96,53.45 21.65,54.73 21.99,52.02 22.34,60.34 22.68,52.63 23.03,51.66 23.37,55.84 23.72,56.68 24.41,50.68 24.75,52.13 25.09,56.45 25.44,54.68 25.78,48.46 26.47,52.38 26.99,53.30 27.51,56.05 28.20,55.03 28.71,55.05 29.06,53.89 29.40,51.71 29.75,60.24 30.44,58.49 31.13,55.18 31.47,54.34 32.16,50.59 32.50,47.69 33.19,54.91 33.54,52.58 33.88,57.11 34.23,52.95 34.92,53.89 35.60,53.96 36.29,53.93 36.81,57.37 37.50,51.85 38.02,51.45 38.36,54.73 38.71,52.45 39.22,55.57 39.57,52.02 39.91,50.73 40.26,51.73 40.60,50.77 40.95,51.26 41.64,52.79 41.98,49.40 42.50,58.97 42.84,55.33 43.19,51.19 43.70,58.37 44.05,54.30 44.74,55.24 45.08,54.55 45.77,51.57 46.46,50.89 46.98,61.35 47.32,63.45 47.67,55.73 48.01,58.28 48.36,58.35 48.70,53.11 49.04,53.21 49.56,51.67 49.91,59.50 50.25,49.16 50.60,51.69 51.11,56.72 51.80,51.41 52.15,53.73 52.66,56.43 53.35,46.67 54.04,59.90 54.39,55.78 55.07,56.79 55.76,48.41 56.11,56.70 56.63,50.58 56.97,52.62 57.31,58.51 57.83,52.11 58.52,52.86 58.87,58.48 59.38,71.19 59.38,54.24 59.73,50.69 60.07,55.33 60.42,52.36 61.11,56.61 61.45,51.93 61.79,57.05 62.31,42.75 62.66,52.39 63.00,51.74 63.35,57.80 64.03,51.01 64.72,58.13 65.07,58.51 65.41,52.81 65.76,47.57 66.27,63.48 66.62,45.02 67.14,46.53 67.48,55.62 68.34,68.05 68.69,52.34 69.03,-62.05 70.07,-62.05 303.02,-62.05 303.71,-43.20 304.05,-18.05 304.39,-9.63 304.74,-1.37 305.26,9.61 305.77,32.23 305.95,19.26 306.29,22.03 306.81,44.79 306.81,29.51 307.15,31.75 307.50,36.08 308.01,36.82 308.36,44.83 309.05,46.55 309.39,45.62 309.91,52.32 310.25,48.05 310.77,49.33 311.11,56.20 311.46,58.69 311.80,58.10 312.15,54.58 312.49,61.59 313.01,58.64 313.53,51.31 314.04,54.16 314.39,60.59 314.73,59.05 315.08,57.16 315.42,56.17 315.94,55.03 316.63,59.61 316.97,66.67 317.66,63.24 318.01,62.12 318.35,63.32 319.04,63.66 319.39,58.39 319.73,63.51 320.25,58.45 320.59,62.77 320.94,64.53 321.28,65.90 321.80,62.68 322.14,62.69 322.49,63.18 322.83,64.98 323.35,63.39 323.69,69.48 324.04,68.49 324.55,58.70 324.73,44.79 325.07,65.08 325.42,65.67 325.93,66.57 326.10,76.22 326.28,65.99 326.62,68.90 327.31,62.14 327.83,62.39 328.17,64.99 328.52,58.95 329.21,63.60 329.55,62.79 330.07,59.70 330.41,63.25 331.10,63.21 331.45,68.63 331.96,59.42 332.31,60.74 333.00,58.61 333.69,65.58 334.03,63.24 334.38,64.58 334.72,59.57 335.41,68.32 335.75,59.53 336.10,67.17 336.44,62.07 336.79,66.26 337.30,66.68 337.65,63.64 338.34,63.05 338.86,59.51 339.54,59.69 339.89,59.48 340.23,65.35 340.58,66.41 341.27,61.54 341.96,62.05 342.47,62.43 342.99,59.98 343.68,55.51 344.02,60.66 344.37,63.73 344.71,56.53 345.23,64.09 345.92,62.68 346.61,62.80 347.30,63.52 347.64,64.21 347.99,66.06 348.33,67.44 349.02,65.79 349.37,61.40 349.88,67.10 350.23,58.52 350.74,58.32 351.43,61.32" fill="none" stroke="#1010ff" stroke-width="1" stroke-linejoin="round"/><rect x="0" y="0" width="352.75" height="127.3" fill="none" stroke="#808080" stroke-width="1.6"/><text x="-3.7" y="4.70" text-anchor="end" font-family="DejaVu Serif, serif" font-size="10.6" fill="#545454">9500</text><text x="-3.7" y="36.12" text-anchor="end" font-family="DejaVu Serif, serif" font-size="10.6" fill="#545454">9000</text><text x="-3.7" y="67.95" text-anchor="end" font-family="DejaVu Serif, serif" font-size="10.6" fill="#545454">8500</text><text x="-3.7" y="98.98" text-anchor="end" font-family="DejaVu Serif, serif" font-size="10.6" fill="#545454">8000</text><text x="-3.7" y="131.40" text-anchor="end" font-family="DejaVu Serif, serif" font-size="10.6" fill="#545454">7500</text><text x="0.80" y="140.90" text-anchor="middle" font-family="DejaVu Serif, serif" font-size="10.6" fill="#545454">0</text><text x="69.72" y="140.90" text-anchor="middle" font-family="DejaVu Serif, serif" font-size="10.6" fill="#545454">200</text><text x="138.64" y="140.90" text-anchor="middle" font-family="DejaVu Serif, serif" font-size="10.6" fill="#545454">400</text><text x="207.56" y="140.90" text-anchor="middle" font-family="DejaVu Serif, serif" font-size="10.6" fill="#545454">600</text><text x="276.48" y="140.90" text-anchor="middle" font-family="DejaVu Serif, serif" font-size="10.6" fill="#545454">800</text><text x="345.40" y="140.90" text-anchor="middle" font-family="DejaVu Serif, serif" font-size="10.6" fill="#545454">1000</text><path d="M351.45 -9.10 L361.25 0.80 L351.45 10.70 L341.65 0.80 Z" fill="#ff0000"/></g></svg><svg class="chart" style="left:117.20px;top:560.10px" width="420" height="160" viewBox="0 0 420 160"><g transform="translate(40,14)"><line x1="0.8" x2="351.95" y1="32.23" y2="32.23" stroke="#ebebeb" stroke-width="1"/><line x1="0.8" x2="351.95" y1="63.65" y2="63.65" stroke="#ebebeb" stroke-width="1"/><line x1="0.8" x2="351.95" y1="95.08" y2="95.08" stroke="#ebebeb" stroke-width="1"/><line x1="69.72" x2="69.72" y1="0.8" y2="126.5" stroke="#ebebeb" stroke-width="1"/><line x1="138.64" x2="138.64" y1="0.8" y2="126.5" stroke="#ebebeb" stroke-width="1"/><line x1="207.56" x2="207.56" y1="0.8" y2="126.5" stroke="#ebebeb" stroke-width="1"/><line x1="276.48" x2="276.48" y1="0.8" y2="126.5" stroke="#ebebeb" stroke-width="1"/><line x1="345.40" x2="345.40" y1="0.8" y2="126.5" stroke="#ebebeb" stroke-width="1"/><clipPath id="cp3"><rect x="0.8" y="0.8" width="351.15" height="125.70"/></clipPath><rect x="256.3" y="8.4" width="14" height="11" fill="#fff" stroke="#c8c8c8" stroke-width="1"/><rect x="257.8" y="9.9" width="11" height="8" fill="#00f"/><text x="274.40000000000003" y="17.8" font-family="DejaVu Serif, serif" font-size="10.6" fill="#7d7d7d">aida08 1.8.W</text><polyline clip-path="url(#cp3)" points="0.80,59.13 1.14,62.70 1.49,56.33 1.83,58.01 2.18,57.28 2.52,59.93 3.04,61.95 3.38,57.18 3.73,64.33 4.25,58.67 4.59,66.25 4.94,57.98 5.62,56.76 5.97,56.11 6.31,60.33 6.66,58.63 7.00,60.16 7.35,53.08 7.69,54.92 8.04,55.85 8.55,56.73 8.90,59.53 9.24,55.54 9.59,56.35 9.93,58.75 10.62,56.49 10.97,59.93 11.65,57.70 12.00,59.84 12.34,58.37 12.69,59.22 13.03,55.08 13.55,57.41 13.89,55.91 14.41,59.45 14.76,56.29 15.45,56.93 15.79,60.05 16.13,52.99 16.48,56.92 17.00,62.07 17.34,56.63 17.69,54.01 18.20,58.26 18.89,61.08 19.41,57.94 19.75,58.48 20.10,55.60 20.44,58.02 21.13,58.91 21.48,53.12 21.82,61.05 22.34,60.04 22.68,56.51 23.03,61.62 23.37,56.83 23.72,57.76 24.06,58.23 24.58,58.92 24.92,57.77 25.27,74.74 25.61,61.14 26.13,48.08 26.47,46.93 26.82,40.42 27.51,52.01 27.68,43.54 28.02,41.49 28.37,52.68 28.71,55.46 29.40,60.90 29.75,65.92 30.09,78.11 30.44,63.53 30.78,58.33 31.30,46.41 31.81,62.87 32.16,64.56 32.50,49.45 32.85,53.23 33.19,64.76 33.54,55.36 34.23,55.59 34.92,55.26 35.60,54.48 35.95,59.24 36.47,54.75 37.16,56.64 37.84,55.68 38.36,64.31 38.71,50.35 39.05,66.90 39.40,58.38 39.74,61.60 40.08,60.68 40.77,50.85 41.12,54.90 41.46,60.47 41.98,69.36 42.32,61.82 42.67,62.41 43.01,62.85 43.36,53.51 44.05,65.81 44.56,59.05 45.08,56.14 45.60,61.44 46.29,53.68 46.80,57.81 47.49,55.58 47.84,47.95 48.18,60.09 48.87,54.70 49.22,63.82 49.56,50.74 50.25,62.57 50.60,65.68 51.28,48.37 51.63,64.91 51.97,58.73 52.32,59.72 52.66,48.30 53.01,59.44 53.52,51.49 54.21,48.27 54.56,57.01 55.07,54.71 55.59,59.94 56.11,53.97 56.45,53.17 57.14,59.33 57.49,56.16 57.83,60.22 58.52,60.26 58.87,54.70 59.21,58.81 59.90,70.01 60.24,51.48 60.76,51.57 61.28,58.84 61.97,60.20 62.31,55.46 62.66,66.37 63.00,59.95 63.35,56.02 63.69,59.93 64.38,66.27 64.55,74.33 64.72,59.46 65.24,56.04 65.93,68.84 66.27,55.69 66.79,53.71 67.48,50.79 68.34,59.88 68.69,44.17 69.03,-62.05 70.07,-62.05 298.88,-62.05 299.57,-43.20 299.92,-18.05 300.26,-7.11 300.60,0.76 300.95,13.59 301.29,13.47 301.64,24.14 301.98,26.43 302.50,30.01 303.19,34.94 303.53,43.60 303.88,50.65 304.22,47.27 304.91,52.69 305.43,51.73 305.77,52.73 306.29,58.62 306.63,55.98 306.98,52.15 307.32,57.01 307.84,56.33 308.19,60.32 308.53,54.83 309.05,60.82 309.39,54.23 309.91,64.85 310.25,58.81 310.60,61.37 311.11,64.71 311.46,56.76 311.80,68.65 312.49,48.64 313.01,68.36 313.35,52.46 313.70,58.53 314.22,61.83 314.56,55.22 314.91,69.33 315.59,57.64 316.11,68.88 316.46,57.70 316.80,59.82 317.49,61.08 317.83,54.51 318.18,66.26 318.52,63.25 318.87,59.95 319.21,64.69 319.90,61.10 320.25,64.76 320.59,63.19 320.94,65.96 321.28,62.59 321.80,74.64 322.31,53.53 322.83,63.08 323.18,61.28 323.69,58.88 324.04,69.34 324.38,50.75 324.73,76.40 325.07,55.81 325.42,59.09 325.76,66.83 326.10,66.52 326.45,63.95 326.79,66.30 327.48,62.27 327.83,61.52 328.17,63.07 328.86,63.55 329.38,61.58 329.72,50.62 330.07,65.39 330.76,56.36 331.27,48.35 331.62,42.10 331.96,53.81 332.31,56.15 332.65,50.71 333.00,63.62 333.34,73.71 333.34,42.50 333.86,55.20 334.20,60.72 334.55,54.31 335.06,57.71 335.06,41.65 335.58,62.82 335.93,69.71 336.62,52.71 336.96,65.54 337.48,50.87 337.99,55.57 338.51,56.72 338.86,57.45 339.20,60.42 339.54,56.53 339.89,59.06 340.23,59.06 340.58,62.15 340.92,59.68 341.44,55.31 341.96,65.99 342.30,61.75 342.65,57.84 342.99,62.61 343.33,63.36 343.85,62.89 344.20,59.46 344.54,60.29 344.89,55.06 345.23,59.16 345.57,65.91 346.26,73.25 346.61,57.25 346.95,55.72 347.13,71.19 347.47,59.24 347.81,60.48 348.16,63.42 348.50,62.16 348.85,61.74 349.54,59.20 349.88,65.75 350.57,61.98 351.26,66.63 351.61,58.91 351.95,57.42" fill="none" stroke="#1010ff" stroke-width="1" stroke-linejoin="round"/><rect x="0" y="0" width="352.75" height="127.3" fill="none" stroke="#808080" stroke-width="1.6"/><text x="-3.7" y="4.70" text-anchor="end" font-family="DejaVu Serif, serif" font-size="10.6" fill="#545454">9500</text><text x="-3.7" y="36.12" text-anchor="end" font-family="DejaVu Serif, serif" font-size="10.6" fill="#545454">9000</text><text x="-3.7" y="67.95" text-anchor="end" font-family="DejaVu Serif, serif" font-size="10.6" fill="#545454">8500</text><text x="-3.7" y="98.98" text-anchor="end" font-family="DejaVu Serif, serif" font-size="10.6" fill="#545454">8000</text><text x="-3.7" y="131.40" text-anchor="end" font-family="DejaVu Serif, serif" font-size="10.6" fill="#545454">7500</text><text x="0.80" y="140.90" text-anchor="middle" font-family="DejaVu Serif, serif" font-size="10.6" fill="#545454">0</text><text x="69.72" y="140.90" text-anchor="middle" font-family="DejaVu Serif, serif" font-size="10.6" fill="#545454">200</text><text x="138.64" y="140.90" text-anchor="middle" font-family="DejaVu Serif, serif" font-size="10.6" fill="#545454">400</text><text x="207.56" y="140.90" text-anchor="middle" font-family="DejaVu Serif, serif" font-size="10.6" fill="#545454">600</text><text x="276.48" y="140.90" text-anchor="middle" font-family="DejaVu Serif, serif" font-size="10.6" fill="#545454">800</text><text x="345.40" y="140.90" text-anchor="middle" font-family="DejaVu Serif, serif" font-size="10.6" fill="#545454">1000</text><path d="M351.45 -9.10 L361.25 0.80 L351.45 10.70 L341.65 0.80 Z" fill="#ff0000"/></g></svg><svg class="chart" style="left:752.20px;top:560.10px" width="420" height="160" viewBox="0 0 420 160"><g transform="translate(40,14)"><line x1="0.8" x2="351.95" y1="32.23" y2="32.23" stroke="#ebebeb" stroke-width="1"/><line x1="0.8" x2="351.95" y1="63.65" y2="63.65" stroke="#ebebeb" stroke-width="1"/><line x1="0.8" x2="351.95" y1="95.08" y2="95.08" stroke="#ebebeb" stroke-width="1"/><line x1="69.72" x2="69.72" y1="0.8" y2="126.5" stroke="#ebebeb" stroke-width="1"/><line x1="138.64" x2="138.64" y1="0.8" y2="126.5" stroke="#ebebeb" stroke-width="1"/><line x1="207.56" x2="207.56" y1="0.8" y2="126.5" stroke="#ebebeb" stroke-width="1"/><line x1="276.48" x2="276.48" y1="0.8" y2="126.5" stroke="#ebebeb" stroke-width="1"/><line x1="345.40" x2="345.40" y1="0.8" y2="126.5" stroke="#ebebeb" stroke-width="1"/><clipPath id="cp4"><rect x="0.8" y="0.8" width="351.15" height="125.70"/></clipPath><rect x="256.3" y="8.4" width="14" height="11" fill="#fff" stroke="#c8c8c8" stroke-width="1"/><rect x="257.8" y="9.9" width="11" height="8" fill="#00f"/><text x="274.40000000000003" y="17.8" font-family="DejaVu Serif, serif" font-size="10.6" fill="#7d7d7d">aida09 1.8.W</text><polyline clip-path="url(#cp4)" points="0.80,54.98 1.32,56.60 1.66,57.53 2.01,58.54 2.70,56.04 3.04,50.69 3.38,57.76 4.07,58.40 4.59,59.15 5.28,57.14 5.62,52.17 5.97,66.16 6.14,52.55 6.49,55.71 6.83,53.67 7.52,54.35 7.86,57.43 8.38,60.65 8.73,59.05 9.07,58.24 9.59,54.81 9.93,52.92 10.45,54.45 10.79,55.73 11.14,53.03 11.48,59.98 12.00,50.90 12.34,56.99 13.03,53.74 13.55,61.94 13.89,56.14 14.24,45.39 14.58,58.43 14.93,64.62 15.27,59.85 15.62,56.33 16.31,55.96 16.65,57.28 17.17,58.26 17.51,52.32 17.86,59.54 18.20,62.97 18.72,54.92 19.24,55.61 19.58,61.24 19.93,48.35 20.27,50.73 20.61,56.09 20.96,54.69 21.48,52.09 22.17,54.97 22.51,50.21 23.03,64.59 23.72,55.03 24.06,56.32 24.75,60.15 25.09,65.84 25.44,63.03 25.96,56.33 26.30,56.61 26.99,55.11 27.33,67.49 27.68,52.93 28.02,61.28 28.37,39.77 28.71,58.78 29.06,54.62 29.40,65.23 29.75,61.09 30.44,58.29 31.13,57.81 31.47,60.88 32.16,55.04 32.50,52.05 33.02,58.34 33.71,53.64 34.05,57.02 34.57,65.38 35.26,56.59 35.60,57.78 36.12,56.02 36.47,54.12 36.81,61.82 37.50,54.17 38.19,56.45 38.53,50.47 38.88,63.41 39.22,55.56 39.57,60.50 39.91,57.61 40.26,62.16 40.77,52.86 41.12,56.54 41.46,53.56 41.81,54.82 42.15,55.10 42.84,59.36 43.36,63.83 43.70,58.79 44.05,59.89 44.56,53.01 44.91,51.33 45.25,57.23 45.60,53.90 45.94,54.65 46.29,58.48 46.80,49.24 47.15,62.64 47.84,53.54 48.18,52.75 48.53,59.46 48.87,61.71 49.22,53.24 49.56,59.07 50.08,63.83 50.42,57.60 50.94,58.74 51.28,55.24 51.80,52.25 52.15,55.33 52.49,54.59 52.83,59.77 53.18,50.32 53.52,57.42 53.87,56.69 54.21,68.05 54.39,52.53 54.73,56.43 55.07,59.83 55.59,55.63 56.28,49.64 56.63,53.00 57.14,54.78 57.66,57.57 58.00,50.70 58.35,55.67 58.87,45.39 59.21,52.34 59.55,55.10 60.24,59.62 60.59,54.32 61.11,51.06 61.62,55.32 62.14,50.59 62.83,49.68 63.17,60.88 63.52,54.73 64.03,49.87 64.38,54.22 64.72,54.24 65.07,54.23 65.41,61.69 65.93,49.04 66.27,54.28 66.79,60.95 67.14,51.98 67.48,54.53 68.34,59.88 68.69,44.17 69.03,-62.05 70.07,-62.05 300.95,-62.05 301.64,-43.20 301.98,-18.05 302.33,-8.88 302.67,0.92 303.02,9.04 303.36,15.68 304.05,24.74 304.57,31.95 305.08,35.41 305.60,38.47 305.95,40.10 306.29,42.31 306.63,47.19 306.98,43.64 307.67,46.09 308.01,53.59 308.36,52.03 308.70,50.00 309.22,50.54 309.91,55.67 310.60,53.12 310.94,54.34 311.29,58.69 311.63,55.36 312.32,56.57 312.67,61.95 313.01,51.96 313.53,59.85 314.22,55.98 314.56,54.65 314.91,58.93 315.42,74.72 315.77,44.41 316.11,79.45 316.11,29.08 316.46,61.76 316.80,65.37 317.15,91.30 317.15,88.57 317.49,61.88 318.18,70.58 318.52,60.88 318.52,29.71 318.87,69.92 319.21,53.56 319.56,77.78 319.90,85.65 319.90,46.20 320.25,54.98 320.94,48.65 321.28,58.56 321.62,54.40 321.97,57.22 322.31,57.62 323.00,58.42 323.35,58.06 323.69,53.47 324.04,55.23 324.73,47.68 325.24,52.15 325.76,57.21 326.28,57.13 326.62,63.53 326.97,56.83 327.31,60.93 327.66,57.53 328.34,56.41 328.69,52.90 329.03,57.41 329.55,54.83 329.90,51.14 330.41,58.44 330.76,64.40 331.10,60.68 331.62,63.88 331.96,56.29 332.48,59.25 333.00,65.71 333.34,60.06 333.69,58.98 334.38,54.65 334.89,59.67 335.58,53.24 336.10,60.32 336.79,55.21 337.13,50.77 337.48,55.45 337.99,52.45 338.51,56.61 338.86,52.94 339.37,53.92 340.06,55.39 340.58,52.93 340.92,51.44 341.61,51.29 342.30,55.64 342.65,54.43 342.99,51.54 343.33,54.84 343.85,56.32 344.20,57.04 344.89,61.34 345.23,54.26 345.57,52.04 345.92,53.81 346.61,56.22 346.95,52.40 347.30,52.52 347.64,51.25 347.99,58.86 348.50,55.20 348.85,55.61 349.54,49.23 350.05,56.82 350.40,55.68 351.09,54.51 351.61,52.57" fill="none" stroke="#1010ff" stroke-width="1" stroke-linejoin="round"/><rect x="0" y="0" width="352.75" height="127.3" fill="none" stroke="#808080" stroke-width="1.6"/><text x="-3.7" y="4.70" text-anchor="end" font-family="DejaVu Serif, serif" font-size="10.6" fill="#545454">9500</text><text x="-3.7" y="36.12" text-anchor="end" font-family="DejaVu Serif, serif" font-size="10.6" fill="#545454">9000</text><text x="-3.7" y="67.95" text-anchor="end" font-family="DejaVu Serif, serif" font-size="10.6" fill="#545454">8500</text><text x="-3.7" y="98.98" text-anchor="end" font-family="DejaVu Serif, serif" font-size="10.6" fill="#545454">8000</text><text x="-3.7" y="131.40" text-anchor="end" font-family="DejaVu Serif, serif" font-size="10.6" fill="#545454">7500</text><text x="0.80" y="140.90" text-anchor="middle" font-family="DejaVu Serif, serif" font-size="10.6" fill="#545454">0</text><text x="69.72" y="140.90" text-anchor="middle" font-family="DejaVu Serif, serif" font-size="10.6" fill="#545454">200</text><text x="138.64" y="140.90" text-anchor="middle" font-family="DejaVu Serif, serif" font-size="10.6" fill="#545454">400</text><text x="207.56" y="140.90" text-anchor="middle" font-family="DejaVu Serif, serif" font-size="10.6" fill="#545454">600</text><text x="276.48" y="140.90" text-anchor="middle" font-family="DejaVu Serif, serif" font-size="10.6" fill="#545454">800</text><text x="345.40" y="140.90" text-anchor="middle" font-family="DejaVu Serif, serif" font-size="10.6" fill="#545454">1000</text><path d="M351.45 -9.10 L361.25 0.80 L351.45 10.70 L341.65 0.80 Z" fill="#ff0000"/></g></svg><svg class="chart" style="left:1387.20px;top:560.10px" width="420" height="160" viewBox="0 0 420 160"><g transform="translate(40,14)"><line x1="0.8" x2="351.95" y1="32.23" y2="32.23" stroke="#ebebeb" stroke-width="1"/><line x1="0.8" x2="351.95" y1="63.65" y2="63.65" stroke="#ebebeb" stroke-width="1"/><line x1="0.8" x2="351.95" y1="95.08" y2="95.08" stroke="#ebebeb" stroke-width="1"/><line x1="69.72" x2="69.72" y1="0.8" y2="126.5" stroke="#ebebeb" stroke-width="1"/><line x1="138.64" x2="138.64" y1="0.8" y2="126.5" stroke="#ebebeb" stroke-width="1"/><line x1="207.56" x2="207.56" y1="0.8" y2="126.5" stroke="#ebebeb" stroke-width="1"/><line x1="276.48" x2="276.48" y1="0.8" y2="126.5" stroke="#ebebeb" stroke-width="1"/><line x1="345.40" x2="345.40" y1="0.8" y2="126.5" stroke="#ebebeb" stroke-width="1"/><clipPath id="cp5"><rect x="0.8" y="0.8" width="351.15" height="125.70"/></clipPath><rect x="256.3" y="8.4" width="14" height="11" fill="#fff" stroke="#c8c8c8" stroke-width="1"/><rect x="257.8" y="9.9" width="11" height="8" fill="#00f"/><text x="274.40000000000003" y="17.8" font-family="DejaVu Serif, serif" font-size="10.6" fill="#7d7d7d">aida10 1.8.W</text><polyline clip-path="url(#cp5)" points="0.80,55.66 1.14,56.20 1.49,55.93 1.83,49.66 2.52,55.67 2.87,57.54 3.21,54.34 3.56,58.34 4.07,46.22 4.59,53.37 4.94,51.44 5.45,53.64 5.80,55.72 6.31,51.81 6.66,54.46 7.35,61.55 8.04,48.50 8.38,52.27 8.73,53.11 9.07,61.38 9.42,52.52 9.76,56.25 10.10,56.93 10.45,51.77 10.79,51.62 11.14,50.16 11.48,48.71 12.17,50.67 12.52,57.10 12.86,41.30 13.38,50.57 13.72,54.67 14.07,46.48 14.58,63.65 14.76,51.72 15.45,46.16 16.13,57.25 16.48,52.56 17.00,50.77 17.34,50.18 18.03,48.48 18.55,52.29 18.89,55.09 19.58,47.59 19.93,58.57 20.27,47.02 20.61,51.72 20.96,57.82 21.30,51.78 21.65,53.26 21.99,48.84 22.68,53.88 23.03,50.17 23.37,62.32 23.72,54.43 24.41,54.90 24.75,58.10 25.09,52.52 25.61,56.02 26.13,55.34 26.65,52.03 27.33,54.25 27.68,58.08 28.37,53.43 29.06,50.59 29.40,52.14 29.75,49.64 30.44,52.05 30.95,52.12 31.30,49.20 31.64,54.40 31.99,52.37 32.33,49.30 32.68,49.58 33.02,56.75 33.36,51.81 33.71,54.40 34.05,48.80 34.40,55.20 34.74,55.19 35.26,50.65 35.60,56.70 36.29,50.83 36.81,52.47 37.16,47.76 37.84,48.30 38.36,58.93 38.71,52.97 39.22,50.10 39.57,46.29 40.08,55.78 40.77,54.03 41.12,50.02 41.81,53.29 42.15,51.91 42.84,56.43 43.19,47.11 43.53,59.49 43.88,52.68 44.22,53.07 44.91,54.45 45.43,48.54 45.77,56.71 46.29,44.86 46.63,49.94 46.98,48.14 47.49,56.08 48.18,52.47 48.53,50.99 49.04,47.74 49.73,50.98 50.25,53.19 50.77,54.02 51.46,52.13 51.80,54.32 52.32,40.21 52.66,50.86 53.35,51.69 53.70,51.99 54.39,32.94 54.73,44.79 55.07,49.55 55.59,67.82 55.94,53.47 56.28,53.04 56.63,49.92 56.97,47.34 57.66,50.67 57.66,30.34 58.00,42.87 58.35,30.85 58.69,41.29 59.21,38.45 59.55,51.89 59.90,55.71 60.59,52.24 60.93,59.26 61.28,38.03 61.62,50.65 61.97,53.91 62.31,36.92 62.66,36.92 63.00,42.88 63.35,49.67 63.69,47.95 64.38,60.96 64.72,54.79 65.07,48.13 65.76,39.99 66.27,56.40 66.62,44.60 67.14,61.29 67.48,50.20 68.34,59.88 68.69,44.17 69.03,-62.05 70.07,-62.05 279.93,-62.05 280.62,-43.20 280.96,-18.05 281.31,-12.42 281.82,-4.46 282.17,-0.50 282.51,2.92 283.20,15.17 283.55,16.30 283.89,18.73 284.24,21.75 284.92,26.40 285.44,27.03 285.96,32.26 286.48,36.09 286.99,37.13 287.68,37.64 288.37,41.67 288.72,46.81 289.06,47.97 289.58,45.52 290.27,44.19 290.96,47.07 291.30,50.17 291.64,48.44 291.99,48.21 292.33,50.45 292.85,45.78 293.20,52.00 293.54,48.56 293.88,50.50 294.23,48.31 294.75,52.59 295.44,48.00 295.78,52.11 296.12,48.67 296.64,52.55 296.99,53.28 297.33,50.65 298.02,56.13 298.54,55.20 298.88,51.48 299.40,55.01 299.74,52.09 300.09,53.74 300.78,51.16 301.12,49.43 301.47,53.07 301.81,48.65 302.33,55.13 302.67,52.57 303.36,51.33 303.88,57.01 304.22,53.31 304.57,54.40 304.91,54.02 305.43,54.75 305.95,52.11 306.46,52.76 306.81,53.53 307.32,56.97 308.01,51.73 308.70,51.70 309.39,52.59 309.91,56.86 310.25,50.33 310.94,56.96 311.29,49.29 311.80,52.81 312.15,55.28 312.49,53.65 313.18,53.40 313.70,52.28 314.04,52.23 314.39,55.26 314.73,46.09 315.25,58.70 315.59,59.95 315.94,50.35 316.63,55.17 317.32,55.63 318.01,41.86 318.35,49.78 318.70,44.33 319.04,58.21 319.39,44.30 319.73,40.25 320.42,46.69 320.76,49.29 321.45,50.20 321.80,56.28 322.31,58.26 322.66,36.03 323.00,46.22 323.69,45.07 324.04,28.23 324.55,82.69 324.90,68.24 325.42,77.25 325.42,13.37 326.10,81.73 326.45,91.93 326.45,36.22 327.14,33.75 327.48,53.52 328.00,44.55 328.17,16.51 328.52,69.25 329.03,88.64 329.38,75.40 329.72,40.62 329.90,82.50 330.07,91.07 330.41,88.14 330.76,56.92 331.27,46.62 331.62,53.19 332.31,55.14 332.65,81.75 333.00,65.62 333.34,38.77 333.69,42.75 334.20,51.12 334.72,52.05 335.24,50.89 335.58,59.81 336.27,46.63 336.62,57.24 337.13,54.21 337.48,49.73 338.17,56.23 338.51,58.99 338.86,53.07 339.20,56.06 339.54,53.13 339.89,53.85 340.23,52.26 340.58,49.59 340.92,52.73 341.44,56.97 341.96,50.16 342.30,49.77 342.65,53.25 342.99,50.81 343.68,51.40 344.20,48.52 344.89,52.62 345.23,45.17 345.57,55.89 345.92,57.88 346.44,51.23 346.95,52.23 347.30,55.10 347.99,49.41 348.33,44.92 348.68,49.41 349.19,53.72 349.54,51.89 349.88,41.39 350.23,50.07 350.57,58.35 351.09,51.42 351.43,52.09 351.78,50.57" fill="none" stroke="#1010ff" stroke-width="1" stroke-linejoin="round"/><rect x="0" y="0" width="352.75" height="127.3" fill="none" stroke="#808080" stroke-width="1.6"/><text x="-3.7" y="4.70" text-anchor="end" font-family="DejaVu Serif, serif" font-size="10.6" fill="#545454">9500</text><text x="-3.7" y="36.12" text-anchor="end" font-family="DejaVu Serif, serif" font-size="10.6" fill="#545454">9000</text><text x="-3.7" y="67.95" text-anchor="end" font-family="DejaVu Serif, serif" font-size="10.6" fill="#545454">8500</text><text x="-3.7" y="98.98" text-anchor="end" font-family="DejaVu Serif, serif" font-size="10.6" fill="#545454">8000</text><text x="-3.7" y="131.40" text-anchor="end" font-family="DejaVu Serif, serif" font-size="10.6" fill="#545454">7500</text><text x="0.80" y="140.90" text-anchor="middle" font-family="DejaVu Serif, serif" font-size="10.6" fill="#545454">0</text><text x="69.72" y="140.90" text-anchor="middle" font-family="DejaVu Serif, serif" font-size="10.6" fill="#545454">200</text><text x="138.64" y="140.90" text-anchor="middle" font-family="DejaVu Serif, serif" font-size="10.6" fill="#545454">400</text><text x="207.56" y="140.90" text-anchor="middle" font-family="DejaVu Serif, serif" font-size="10.6" fill="#545454">600</text><text x="276.48" y="140.90" text-anchor="middle" font-family="DejaVu Serif, serif" font-size="10.6" fill="#545454">800</text><text x="345.40" y="140.90" text-anchor="middle" font-family="DejaVu Serif, serif" font-size="10.6" fill="#545454">1000</text><path d="M351.45 -9.10 L361.25 0.80 L351.45 10.70 L341.65 0.80 Z" fill="#ff0000"/></g></svg><svg class="chart" style="left:117.20px;top:722.10px" width="420" height="160" viewBox="0 0 420 160"><g transform="translate(40,14)"><line x1="0.8" x2="351.95" y1="32.23" y2="32.23" stroke="#ebebeb" stroke-width="1"/><line x1="0.8" x2="351.95" y1="63.65" y2="63.65" stroke="#ebebeb" stroke-width="1"/><line x1="0.8" x2="351.95" y1="95.08" y2="95.08" stroke="#ebebeb" stroke-width="1"/><line x1="69.72" x2="69.72" y1="0.8" y2="126.5" stroke="#ebebeb" stroke-width="1"/><line x1="138.64" x2="138.64" y1="0.8" y2="126.5" stroke="#ebebeb" stroke-width="1"/><line x1="207.56" x2="207.56" y1="0.8" y2="126.5" stroke="#ebebeb" stroke-width="1"/><line x1="276.48" x2="276.48" y1="0.8" y2="126.5" stroke="#ebebeb" stroke-width="1"/><line x1="345.40" x2="345.40" y1="0.8" y2="126.5" stroke="#ebebeb" stroke-width="1"/><clipPath id="cp6"><rect x="0.8" y="0.8" width="351.15" height="125.70"/></clipPath><rect x="256.3" y="8.4" width="14" height="11" fill="#fff" stroke="#c8c8c8" stroke-width="1"/><rect x="257.8" y="9.9" width="11" height="8" fill="#00f"/><text x="274.40000000000003" y="17.8" font-family="DejaVu Serif, serif" font-size="10.6" fill="#7d7d7d">aida13 1.8.W</text><polyline clip-path="url(#cp6)" points="0.80,66.05 1.14,61.81 1.49,66.20 1.83,64.47 2.18,65.88 2.52,63.94 2.87,64.56 3.21,66.25 3.56,64.00 4.07,59.41 4.42,66.91 4.76,66.71 5.11,64.37 5.45,63.35 5.80,66.11 6.14,65.18 6.49,64.47 7.18,70.46 7.86,61.98 8.21,69.44 8.90,67.50 9.24,68.78 9.59,68.25 9.93,61.87 10.28,70.08 10.62,65.53 10.97,70.84 11.31,62.37 12.00,66.86 12.52,65.15 12.86,62.22 13.21,68.55 13.89,62.53 14.58,69.23 14.93,66.36 15.27,63.74 15.96,66.14 16.31,62.30 16.65,68.57 17.00,68.53 17.69,66.16 18.03,62.09 18.37,60.93 19.06,66.37 19.41,67.38 19.75,65.46 20.44,59.37 20.79,66.71 21.13,69.91 21.48,69.19 21.82,65.02 22.51,71.41 22.85,55.81 23.37,58.09 23.89,63.02 24.41,63.72 24.92,58.61 25.27,56.99 25.61,63.60 26.13,56.00 26.47,62.99 27.16,57.29 27.51,57.51 28.20,69.82 28.37,37.88 28.89,62.70 29.57,66.94 29.75,66.79 29.92,57.31 30.44,65.34 31.13,62.59 31.81,63.64 32.16,60.01 32.50,62.00 33.19,59.94 33.54,66.16 33.88,54.44 34.40,63.70 35.09,54.70 35.60,58.90 36.12,64.73 36.64,62.71 36.98,52.60 37.33,56.21 37.67,59.96 38.02,63.05 38.36,57.60 38.71,60.94 39.05,66.91 39.57,64.87 40.26,62.73 40.95,62.02 41.29,66.12 41.64,66.20 41.98,55.42 42.32,62.05 43.01,62.69 43.70,62.73 44.05,66.68 44.39,57.08 44.91,60.72 45.25,58.45 45.94,56.72 46.63,59.82 47.15,64.50 47.84,62.30 48.18,62.22 48.70,53.19 49.04,57.68 49.39,52.84 49.73,62.03 50.42,70.93 50.77,91.93 50.94,87.85 51.46,68.27 51.80,49.55 52.32,55.80 52.66,58.50 53.01,49.68 53.18,38.51 53.52,35.89 54.21,37.78 54.73,76.26 55.25,77.77 55.59,83.26 55.94,90.68 56.28,48.35 56.63,67.12 56.97,59.12 57.66,48.96 58.35,73.53 58.87,70.37 59.21,54.04 59.55,61.55 59.90,60.08 60.59,59.93 61.11,54.69 61.79,50.35 62.48,60.52 62.83,62.32 63.35,52.60 63.69,57.24 64.03,55.95 64.55,69.28 64.90,47.99 65.24,57.01 65.76,61.36 66.10,58.58 66.79,61.43 67.31,60.23 68.34,64.91 68.69,49.19 69.03,-62.05 70.07,-62.05 298.19,-62.05 298.88,-43.20 299.23,-18.05 299.74,-3.91 300.09,4.05 300.43,10.34 300.78,18.85 301.12,19.97 301.47,32.34 301.81,26.77 302.15,39.53 302.50,45.51 303.19,43.82 303.71,45.85 304.39,44.01 305.08,58.79 305.43,59.65 305.77,55.60 306.29,52.98 306.81,62.63 307.50,62.37 307.84,57.07 308.19,67.26 308.53,64.52 308.87,67.24 309.39,67.16 309.74,72.88 310.08,68.31 310.43,70.11 310.77,71.33 311.11,62.74 311.63,67.77 311.98,70.18 312.32,61.46 312.67,62.36 313.01,68.08 313.35,69.21 313.70,68.29 314.22,64.61 314.91,65.14 315.25,63.95 315.59,69.56 315.94,74.29 316.11,91.30 316.28,70.78 316.63,65.93 316.97,68.14 317.32,70.25 317.66,62.03 318.01,71.35 318.70,66.21 319.04,64.38 319.56,64.69 320.07,60.09 320.42,67.46 320.76,69.24 321.11,73.01 321.45,69.95 322.14,63.28 322.49,61.28 322.83,65.68 323.35,71.58 323.86,76.42 324.21,63.02 324.90,70.02 325.42,67.88 325.76,61.85 326.45,66.04 327.14,66.24 327.66,71.81 328.00,68.79 328.69,60.37 329.38,68.39 329.72,69.66 330.07,74.74 330.41,62.22 330.76,69.65 331.45,64.14 331.79,61.52 332.48,70.24 332.82,66.18 333.17,60.68 333.69,66.04 334.03,73.78 334.38,95.08 334.72,70.64 335.06,66.17 335.41,67.29 335.75,72.08 336.10,63.68 336.44,67.95 336.79,67.50 336.79,51.08 337.13,67.78 337.48,61.51 337.99,62.01 338.34,67.07 339.03,58.56 339.37,58.49 339.72,65.97 340.06,60.24 340.41,57.37 340.75,67.33 341.44,69.95 341.78,66.99 341.96,47.31 342.30,68.48 342.65,60.92 342.99,68.42 343.68,71.26 344.37,60.98 344.71,68.65 345.06,62.12 345.40,73.13 345.75,68.96 346.26,72.02 346.61,67.67 347.30,71.06 347.64,66.86 348.33,65.10 348.68,69.53 349.02,71.77 349.37,72.45 349.88,62.65 350.23,71.73 350.57,64.95 350.92,62.75 351.61,73.39" fill="none" stroke="#1010ff" stroke-width="1" stroke-linejoin="round"/><rect x="0" y="0" width="352.75" height="127.3" fill="none" stroke="#808080" stroke-width="1.6"/><text x="-3.7" y="4.70" text-anchor="end" font-family="DejaVu Serif, serif" font-size="10.6" fill="#545454">9500</text><text x="-3.7" y="36.12" text-anchor="end" font-family="DejaVu Serif, serif" font-size="10.6" fill="#545454">9000</text><text x="-3.7" y="67.95" text-anchor="end" font-family="DejaVu Serif, serif" font-size="10.6" fill="#545454">8500</text><text x="-3.7" y="98.98" text-anchor="end" font-family="DejaVu Serif, serif" font-size="10.6" fill="#545454">8000</text><text x="-3.7" y="131.40" text-anchor="end" font-family="DejaVu Serif, serif" font-size="10.6" fill="#545454">7500</text><text x="0.80" y="140.90" text-anchor="middle" font-family="DejaVu Serif, serif" font-size="10.6" fill="#545454">0</text><text x="69.72" y="140.90" text-anchor="middle" font-family="DejaVu Serif, serif" font-size="10.6" fill="#545454">200</text><text x="138.64" y="140.90" text-anchor="middle" font-family="DejaVu Serif, serif" font-size="10.6" fill="#545454">400</text><text x="207.56" y="140.90" text-anchor="middle" font-family="DejaVu Serif, serif" font-size="10.6" fill="#545454">600</text><text x="276.48" y="140.90" text-anchor="middle" font-family="DejaVu Serif, serif" font-size="10.6" fill="#545454">800</text><text x="345.40" y="140.90" text-anchor="middle" font-family="DejaVu Serif, serif" font-size="10.6" fill="#545454">1000</text><path d="M351.45 -9.10 L361.25 0.80 L351.45 10.70 L341.65 0.80 Z" fill="#ff0000"/></g></svg><svg class="chart" style="left:752.20px;top:722.10px" width="420" height="160" viewBox="0 0 420 160"><g transform="translate(40,14)"><line x1="0.8" x2="351.95" y1="32.23" y2="32.23" stroke="#dadada" stroke-width="1"/><line x1="0.8" x2="351.95" y1="63.65" y2="63.65" stroke="#dadada" stroke-width="1"/><line x1="0.8" x2="351.95" y1="95.08" y2="95.08" stroke="#dadada" stroke-width="1"/><line x1="69.72" x2="69.72" y1="0.8" y2="126.5" stroke="#dadada" stroke-width="1"/><line x1="138.64" x2="138.64" y1="0.8" y2="126.5" stroke="#dadada" stroke-width="1"/><line x1="207.56" x2="207.56" y1="0.8" y2="126.5" stroke="#dadada" stroke-width="1"/><line x1="276.48" x2="276.48" y1="0.8" y2="126.5" stroke="#dadada" stroke-width="1"/><line x1="345.40" x2="345.40" y1="0.8" y2="126.5" stroke="#dadada" stroke-width="1"/><clipPath id="cp7"><rect x="0.8" y="0.8" width="351.15" height="125.70"/></clipPath><rect x="256.3" y="8.4" width="14" height="11" fill="#fff" stroke="#c8c8c8" stroke-width="1"/><rect x="257.8" y="9.9" width="11" height="8" fill="#00f"/><text x="274.40000000000003" y="17.8" font-family="DejaVu Serif, serif" font-size="10.6" fill="#000">aida14 1.8.W</text><polyline clip-path="url(#cp7)" points="0.80,54.40 1.49,55.63 2.01,53.56 2.35,57.95 2.70,49.78 3.21,46.61 3.56,52.06 3.90,56.24 4.25,58.84 4.59,56.44 4.94,53.46 5.28,52.34 5.80,54.89 6.14,58.80 6.83,49.23 7.52,60.31 8.04,58.67 8.73,61.39 9.07,53.01 9.76,50.98 10.10,57.00 10.62,51.41 11.14,36.62 11.31,59.28 11.65,60.87 12.00,48.20 12.69,55.90 13.21,59.31 13.55,55.21 13.89,49.58 14.24,52.12 14.58,53.94 14.93,49.41 15.62,51.94 15.96,48.64 16.31,66.35 16.65,56.32 17.34,68.89 17.69,52.22 18.37,60.18 18.89,65.83 19.58,52.94 19.93,57.89 20.27,58.00 20.61,67.65 20.96,54.65 21.65,55.42 21.99,49.16 22.51,50.64 23.20,55.79 23.54,56.56 24.06,52.64 24.41,56.41 24.75,51.42 25.09,49.29 25.44,59.21 25.78,60.24 26.13,47.91 26.47,51.56 26.82,55.69 27.16,67.42 27.51,60.63 27.85,57.51 28.20,47.93 28.54,55.63 28.89,66.05 29.23,55.08 29.57,56.27 29.92,64.72 30.26,59.91 30.95,51.78 31.47,60.36 32.16,61.85 32.68,57.00 33.36,48.24 33.71,53.73 34.23,57.37 34.57,54.12 34.92,56.53 35.26,68.68 35.60,52.22 35.95,58.31 36.64,55.65 37.33,55.25 37.67,54.11 38.19,48.52 38.53,55.48 38.88,41.38 39.22,43.36 39.91,44.34 40.26,45.93 40.60,40.12 41.29,45.99 41.64,40.87 42.15,44.74 42.84,44.74 43.53,43.92 43.88,41.79 44.22,42.17 44.74,39.92 45.25,46.13 45.77,47.88 46.12,43.52 46.80,37.08 47.32,50.00 47.67,44.51 48.18,40.29 48.70,54.12 49.04,46.65 49.39,47.13 49.73,51.53 50.42,48.19 50.77,44.72 51.28,50.78 51.80,46.38 52.49,39.33 52.83,45.46 53.35,45.73 53.70,38.92 54.21,54.43 54.56,47.66 55.07,41.77 55.76,50.20 55.94,35.37 56.11,46.40 56.45,46.31 56.80,44.94 57.31,47.76 57.66,38.18 58.35,40.26 58.69,37.61 59.21,43.55 59.55,45.30 59.90,49.60 60.24,42.01 60.59,40.15 60.93,47.35 61.28,39.73 61.62,46.31 62.31,46.68 62.83,45.99 63.35,41.08 63.69,45.58 64.03,46.50 64.72,49.54 65.07,39.99 65.76,40.14 66.10,39.22 66.45,47.44 67.14,44.26 68.34,54.22 68.69,38.51 69.03,-62.05 70.07,-62.05 277.17,-62.05 277.86,-43.20 278.21,-24.34 278.55,-17.51 279.24,-4.94 279.58,1.97 280.10,8.66 280.44,14.52 280.79,17.96 281.48,21.79 281.82,26.00 282.17,32.83 282.51,31.36 282.86,34.62 283.37,37.07 284.06,41.97 284.41,43.78 284.75,47.65 285.10,45.30 285.44,52.33 285.79,52.28 286.13,51.55 286.65,56.10 287.16,51.52 287.51,54.46 287.85,60.68 288.20,57.61 288.54,59.61 288.89,52.17 289.23,54.90 289.75,66.45 290.27,59.34 290.61,57.10 290.96,62.13 291.64,64.04 291.99,65.26 292.33,59.98 292.68,64.05 293.02,58.99 293.37,66.70 293.88,64.96 294.23,67.31 294.57,62.34 295.26,62.42 295.61,65.76 295.95,61.03 296.30,63.43 296.64,66.83 297.33,63.43 297.68,63.39 298.02,56.62 298.36,64.14 298.71,61.73 299.40,67.41 300.09,68.38 300.43,67.33 300.78,68.87 301.47,63.97 301.98,60.72 302.50,62.80 303.02,59.56 303.53,63.04 303.88,66.68 304.39,71.93 304.74,67.56 305.26,72.08 305.60,66.89 306.12,66.63 306.81,70.40 307.15,62.37 307.67,63.47 308.01,63.32 308.70,64.09 309.22,59.41 309.56,61.54 309.91,67.07 310.25,65.63 310.60,66.30 310.94,62.13 311.63,64.48 311.98,59.12 312.32,54.22 312.67,58.86 313.01,56.46 313.35,66.18 314.04,58.46 314.39,62.96 314.91,57.85 315.25,59.92 315.59,52.14 315.94,59.43 316.28,62.20 316.97,68.48 317.49,53.95 317.83,55.94 318.18,56.53 318.52,64.05 319.21,66.27 319.56,57.99 319.90,49.45 320.42,64.79 321.11,60.94 321.45,67.93 321.97,63.39 322.49,64.28 323.00,57.46 323.35,53.05 323.69,63.62 324.38,71.53 324.73,58.56 325.42,59.08 325.76,54.85 326.10,64.72 326.45,61.51 326.97,56.00 327.48,49.76 327.83,65.79 328.17,39.77 328.34,69.93 329.03,62.59 329.38,57.33 329.72,52.51 330.07,53.50 330.41,67.96 330.76,63.53 331.10,55.73 331.62,59.14 332.31,61.60 332.82,62.45 333.17,53.46 333.86,67.35 334.20,69.14 334.72,62.09 335.06,65.45 335.58,66.68 335.93,66.33 336.62,70.45 336.96,74.85 337.48,57.18 337.82,55.03 338.34,64.18 338.68,68.66 339.20,61.28 339.89,69.57 340.23,70.20 340.58,65.99 341.27,62.02 341.78,61.15 342.47,64.39 343.16,60.55 343.51,57.65 344.20,63.98 344.71,69.46 345.06,61.12 345.40,63.72 346.09,58.09 346.78,71.98 347.13,64.07 347.47,65.62 347.81,70.73 348.16,65.08 348.50,60.45 348.85,60.22 349.19,61.69 349.54,59.55 349.88,65.17 350.40,76.56 351.09,53.83 351.26,78.11 351.43,68.01 351.78,66.55 351.95,78.73" fill="none" stroke="#1010ff" stroke-width="1" stroke-linejoin="round"/><rect x="0" y="0" width="352.75" height="127.3" fill="none" stroke="#000" stroke-width="1.6"/><text x="-3.7" y="4.70" text-anchor="end" font-family="DejaVu Serif, serif" font-size="10.6" fill="#545454">9500</text><text x="-3.7" y="36.12" text-anchor="end" font-family="DejaVu Serif, serif" font-size="10.6" fill="#545454">9000</text><text x="-3.7" y="67.95" text-anchor="end" font-family="DejaVu Serif, serif" font-size="10.6" fill="#545454">8500</text><text x="-3.7" y="98.98" text-anchor="end" font-family="DejaVu Serif, serif" font-size="10.6" fill="#545454">8000</text><text x="-3.7" y="131.40" text-anchor="end" font-family="DejaVu Serif, serif" font-size="10.6" fill="#545454">7500</text><text x="0.80" y="140.90" text-anchor="middle" font-family="DejaVu Serif, serif" font-size="10.6" fill="#545454">0</text><text x="69.72" y="140.90" text-anchor="middle" font-family="DejaVu Serif, serif" font-size="10.6" fill="#545454">200</text><text x="138.64" y="140.90" text-anchor="middle" font-family="DejaVu Serif, serif" font-size="10.6" fill="#545454">400</text><text x="207.56" y="140.90" text-anchor="middle" font-family="DejaVu Serif, serif" font-size="10.6" fill="#545454">600</text><text x="276.48" y="140.90" text-anchor="middle" font-family="DejaVu Serif, serif" font-size="10.6" fill="#545454">800</text><text x="345.40" y="140.90" text-anchor="middle" font-family="DejaVu Serif, serif" font-size="10.6" fill="#545454">1000</text><path d="M351.45 -9.10 L361.25 0.80 L351.45 10.70 L341.65 0.80 Z" fill="#00ff00"/></g></svg><div class="btn" style="left:6px;top:896px;width:100px;height:19px"><span style="top:3px">Empty Log Window</span></div><div class="btn" style="left:110px;top:896px;width:132px;height:19px"><span style="top:3px">Send Log Window to ELog</span></div><div class="btn" style="left:247px;top:896px;width:39px;height:19px"><span style="top:3px">Reload</span></div><div class="btn" style="left:290px;top:896px;width:35px;height:19px"><span style="top:3px">Reset</span></div><div class="btn" style="left:329px;top:896px;width:80px;height:19px"><span style="top:3px">Show Variables</span></div><div class="btn" style="left:413px;top:896px;width:96px;height:19px"><span style="top:3px">Show Log Window</span></div><div class="btn" style="left:513px;top:896px;width:79px;height:19px"><span style="top:3px">Enable Logging</span></div><div class="btn" style="left:1806px;top:896px;width:108px;height:19px"><span style="top:3px">How to use this page</span></div><div class="t" style="left:1667.30px;top:930.00px;font-size:12.8px;line-height:12.8px;font-family:'DejaVu Serif', serif;font-weight:400;color:#f00;">Last Updated: May 24, 2025 11:42:40</div><div style="position:absolute;left:8px;top:966px;width:2px;height:2px;background:#3a3a3a"></div><div class="t" style="left:8.00px;top:972.00px;font-size:12.8px;line-height:12.8px;font-family:'DejaVu Serif', serif;font-weight:400;color:#0000ee;"><span style="text-decoration:underline">Home</span></div></div></body></html>
